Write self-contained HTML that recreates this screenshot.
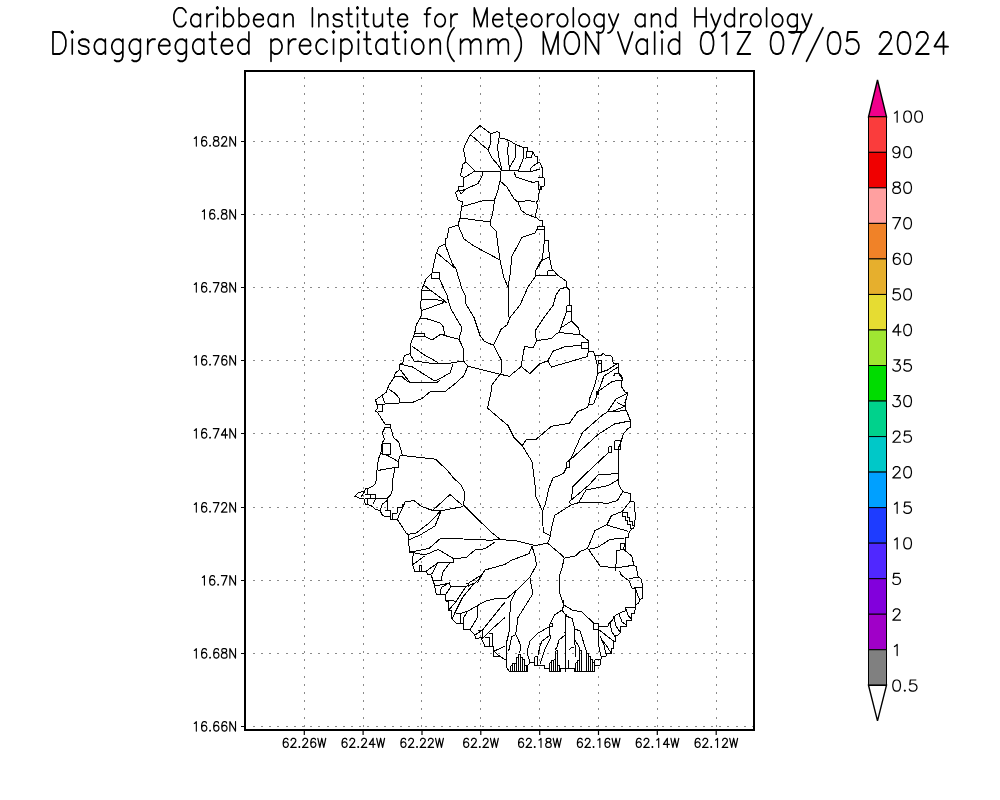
<!DOCTYPE html><html><head><meta charset="utf-8"><style>html,body{margin:0;padding:0;background:#fff;width:1000px;height:800px;overflow:hidden}svg{display:block}text{font-family:"Liberation Sans",sans-serif;fill:#000}</style></head><body>
<svg width="1000" height="800" viewBox="0 0 1000 800">
<rect width="1000" height="800" fill="#fff"/>
<path d="M252.9,141.5H753 M252.9,214.5H753 M252.9,287.5H753 M252.9,360.5H753 M252.9,433.5H753 M252.9,507.5H753 M252.9,580.5H753 M252.9,653.5H753 M252.9,726.5H753" stroke="#8a8a8a" stroke-width="1" stroke-dasharray="2 6.18" fill="none" shape-rendering="crispEdges"/>
<path d="M304.5,77V729 M363.5,77V729 M421.5,77V729 M480.5,77V729 M539.5,77V729 M598.5,77V729 M657.5,77V729 M716.5,77V729" stroke="#8a8a8a" stroke-width="1" stroke-dasharray="2 6.2" fill="none" shape-rendering="crispEdges"/>
<rect x="245" y="71" width="509" height="659" fill="none" stroke="#000" stroke-width="2"/>
<path d="M241,141.5H245 M241,214.5H245 M241,287.5H245 M241,360.5H245 M241,433.5H245 M241,507.5H245 M241,580.5H245 M241,653.5H245 M241,726.5H245 M304.3,730V735 M363.1,730V735 M422.0,730V735 M480.8,730V735 M539.7,730V735 M598.5,730V735 M657.3,730V735 M716.2,730V735" stroke="#000" stroke-width="1.2" fill="none"/>
<g fill="none" stroke="#000" stroke-width="1" stroke-linejoin="miter" shape-rendering="crispEdges">
<polyline points="480,125.5 491,134 497,131.5 499,132.5 500,138 504,138.5 510,141 515,144 523,147.5 527,147.5 527,151 533,152 535,156 537.5,156.5 538,162.5 540,163 542.5,168.5 542.5,177.5 544,177.5 544.5,186 541,186.5 540,190 538.5,194 538,200 536.7,202 537.5,207.5 535,216 538.75,220 542.5,220 542.5,226.25 544.4,226.25 544.4,240 548,240 549.4,257 551.9,268.75 557.5,275 566.25,281.25 566.9,287.5 569.4,290 569.5,295 569.5,305.5 571.7,305.5 571.7,321.2 578.5,328 580,334 588.2,340.7 588.1,348.1 588.75,351.25 593.1,351.25 595,355.6 601.25,355.6 603.1,353.1 605.6,355.6 610.6,355.6 612.5,357.5 613.1,363.1 618.1,363.1 618.1,372.5 621.9,376.25 623.1,380 621.25,381.25 621.9,387.5 625,391.9 628.1,393.1 625,402.5 625.6,408.75 630,419.4 630.6,427.5 628,428.5 623.5,433.7 620.5,443.5 619,446.5 618.2,454 618.2,484 622.7,491.5 630.2,493.7 631,501.2 634,502 635.5,517 634,527.5 629.4,531.25 628.1,537.5 625,538.1 625,544.4 623.1,549.4 627.5,552.5 631.9,556.25 633.75,565 636.25,566.9 638.1,576.9 641.9,579.4 642.5,598.1 640,599.4 638.75,603.1 635,605 635,610 634,613.5 631,613.5 631,620 626,620 626,626 620,626 620,633 618,635 615,635 615,641.5 613.5,641.5 613.5,648 612,648 611.5,653.5 606.5,654 606.5,656 601.5,656.5 601,659 600,659.5 600,665 594,665.5 594,671.5 574.5,671.5 574,668.5 560,668.5 560,671.5 549.5,671.5 549.5,668.5 544.5,668.5 544,665.5 534.5,665.5 534,662.5 530,662.5 527.5,665.5 527.5,671.5 509.5,671.5 507,668 506,660 500,656.5 494,656.5 493.2,646.7 485,646.7 481.2,637.7 476,638.5 474.5,634.7 469.2,629.5 463.2,629.5 463.2,623.5 456.5,623.5 452,619 451.2,610.7 448.2,610 448.2,601.7 446,601 445.2,595 436.2,594.2 434.7,586 433.2,580.7 431,574.7 427.2,574 426.5,571.7 419,571 414.7,571 412.5,565 413.2,553 409.5,552.2 408,534.2 406.5,533.5 397.4,519.6 390.2,519.6 390.2,516.6 385.4,516.6 382.4,515.4 380,510.6 375,509 372.6,506.5 368.5,504.6 365.3,504.6 364,499 360,498.6 355,496.2 358.4,492.4 364.7,491.4 365.3,488.4 367.7,488.4 371,487.2 374.6,484.8 376.5,480 377,470.5 378.5,458.5 380.7,454 382.2,442.7 384.5,439 382.2,433 385.2,427 390.5,427 390.5,424 385.2,424 384.5,423.2 377.7,412.7 375.5,411.2 377.7,407.5 377,404.5 375.5,400 383,394.7 386,392.5 389,385 390,383.5 394.5,376.7 395.2,373 399,370 399.7,364 402.7,363.2 404.2,355.7 410.2,353.5 411,343 414.7,333.2 416.2,325 420,318.2 421.5,314.5 420.7,305.5 421.5,295 422,289 426,279 432,273 436,254 439,247 445,244 445,239 447,238 449,228 458,225 460,218 462,205 462.5,202 458,200 455.5,192.5 459,190 458.5,186.5 463.5,186.5 463.5,177.5 460.5,175.5 463,164 466,162 463.5,149 466,143 470,135.5 472,133 480,125.5"/>
<polyline points="471.5,135.5 480,143 488,150 492,158 498,165 502,171"/>
<polyline points="488,150 490,145 491,134"/>
<polyline points="499,138 497.5,147 499,158 502,170"/>
<polyline points="509,142 507.5,150 509,165 510,171"/>
<polyline points="516,144.5 515,158 510,167"/>
<polyline points="523,147.5 523,159 522,162 518,171"/>
<polyline points="527,151 526,158 531,157.5 533,152"/>
<polyline points="537.5,163 533,166 530,169 530,171 533,171 540,169"/>
<polyline points="466,162 474,170 474,171.5 483,171.5 495,171.5 501,171 510,170 518,171 533,171"/>
<polyline points="474,171.5 467,176 463.5,177.5"/>
<polyline points="483,171.5 482,176 478,183.5 466,189 463.5,190"/>
<polyline points="458.5,190 463.5,190"/>
<polyline points="459,190 461,194 466,189"/>
<polyline points="501,171 500,181 498,190 494.5,200 492.5,215 490,222"/>
<polyline points="500,181 507,187 514,199 518,202 521,210 526,214 537,218"/>
<polyline points="514,172 516,177 522,179 533,182.5 538,181"/>
<polyline points="538,177.5 542.5,177.5"/>
<polyline points="538,181 538,189 541,189 541,186.5"/>
<polyline points="518,202 528.5,200.5 535.2,202"/>
<polyline points="462.5,206.5 473,203.5 483.5,200.5 494.5,200"/>
<polyline points="460,218 490,222 491,226 496,231 500,260 504,278 508,287 509,305 508.7,317.5"/>
<polyline points="458,225 464,239 474,246 500,260"/>
<polyline points="537.5,226.25 544.4,226.25 544.4,229.4 537.5,229.4 537.5,226.25"/>
<polyline points="537.5,228 535,233 522,237.5 512,256 510,275 508,287"/>
<polyline points="544.4,240 542.5,258 536,270 535,277 528,287 520,305"/>
<polyline points="549.4,257 542.5,260 536,270"/>
<polyline points="554,270 548,271 547,275 556,275"/>
<polyline points="535,276 547,275"/>
<polyline points="567,287 560,289 556,295 553,305.5 544,317.5 535,331 536.5,340.7"/>
<polyline points="445,244 452,263 456,269 462,289 465,295 465,302.5 474,317.5 480,335.5 484.5,341.5 493.5,345.2 501,359.5 501,373 492,385 490.5,395 487.5,408 499,418 508,425.5 514,437.5 522.2,445.7 532,461.5 535,485 535.7,496 542.5,511 543.2,532 550.7,535.7 547.7,543.2"/>
<polyline points="437,253 456,269"/>
<polyline points="439,278 447,295 448.5,301.7 451.5,310 462,328 459,339.2 463.5,349 463.5,361 468,366.2"/>
<polyline points="431.5,272.5 439.5,272.5 439.5,278.5 431.5,278.5 431.5,272.5"/>
<polyline points="424,285 430,290 422,290"/>
<polyline points="421.25,299.4 436.25,299.4 447,302.5"/>
<polyline points="430,290 447,302.5"/>
<polyline points="421.5,310.7 444,302.5"/>
<polyline points="420,318.2 427.5,319 439.5,322.7 443.2,326.5 444.7,335.5 450,337 459,339.2"/>
<polyline points="424.5,336.2 432,340 441,334 444.7,335.5"/>
<polyline points="414.4,333.1 424.4,333.1 424.4,336.25 414.4,336.25"/>
<polyline points="411.7,346 424.5,355 438,362.5"/>
<polyline points="410.2,354.2 414,361 430.5,363.2 450,363.2 463.5,361"/>
<polyline points="399.7,364 412.5,367 435,381.2 450,373 453,364"/>
<polyline points="400.5,370 409.5,382 437.5,382 440,380"/>
<polyline points="395.2,376 402,376.7 408,382"/>
<polyline points="493.5,345.2 501,329.5 507,325 510,317.5 518.5,307 520,305"/>
<polyline points="468,366.2 500.6,374.4 509.4,376.25 521.2,366.5"/>
<polyline points="468,366.2 463.5,376 453.5,385 444.5,392 431,391 422,398.5 413,402.2 399.5,403 378.5,404.5"/>
<polyline points="389,389.5 394.2,392.5 399.5,398.5 399.5,403"/>
<polyline points="566.5,305.5 571.7,305.5 571.7,311.5 566.5,311.5 566.5,305.5"/>
<polyline points="566.5,311.5 559,332.5"/>
<polyline points="559.7,328.7 571,321.2 578.5,328"/>
<polyline points="559,332.5 580,334.7"/>
<polyline points="536.5,340.7 551.5,338.5 556,334 559,332.5"/>
<polyline points="536.5,340.7 533.5,347.5 524.5,346.7 521.5,364 521.2,366.5 529.7,373.7 539.5,364 547,361"/>
<polyline points="581.5,342.2 588.2,342.2 588.2,348.2 581.5,348.2 581.5,342.2"/>
<polyline points="581.5,345.2 565,346.7 553,351.2 547.7,361 551.5,367 587.5,356.5 588.2,351.2"/>
<polyline points="595,355.6 597.5,365.6 597.5,373.75 594.4,386.25 590,397.5 588.75,405 586.9,407.5 577.5,411.9 569.5,423.2 551.5,426.2 536.5,439 526.7,439 522.2,445.7"/>
<polyline points="618.1,363.1 607.5,370 600,372.5 597.5,373.75"/>
<polyline points="598,360.6 601,360.6 601,363.1 598,363.1 598,360.6"/>
<polyline points="601,363.1 601,372.5"/>
<polyline points="618.1,366.9 603.75,376.25 601.25,383.75 598.75,390 597.5,393.75 593.75,403.75 589.4,405"/>
<polyline points="596.25,391.25 598.75,391.25 598.75,394.4 596.25,394.4 596.25,391.25"/>
<polyline points="623.1,380 612.5,381.25 600,390 597.5,391.25"/>
<polyline points="613.75,376.25 615,373.1 618.75,373.75 623.1,380"/>
<polyline points="628.1,393.1 616.25,398.75 607.5,411.9 602.5,415 582.5,432.5 571,458.5 568,461.5"/>
<polyline points="616.9,402.5 625,406.25 611.25,411.9"/>
<polyline points="625.6,410.6 607.5,411.9"/>
<polyline points="382.2,394.7 384.5,403"/>
<polyline points="377.7,404.5 382.2,404.5 382.2,411.2 377.7,411.2"/>
<polyline points="390.5,427 393.5,437.5 398.7,442 402.5,455.5 400.2,455.5"/>
<polyline points="402.5,455.5 435.5,459.2 447.5,470.5 453.5,478 461,485 465,493 463.5,505 490,531.2 500.5,539.5"/>
<polyline points="382.2,443.5 390.5,443.5 390.5,454 382.2,454 382.2,443.5"/>
<polyline points="380.7,453.2 387.5,455.5 398,461.5"/>
<polyline points="400.2,455.5 398,461.5 398,467.5 395,467.5 393,478 392.6,489 390.8,495 387.5,498 375.8,498"/>
<polyline points="377.7,470.5 395,467.5"/>
<polyline points="566.5,461.5 569.5,461.5 569.5,467.5 566.5,467.5 566.5,461.5"/>
<polyline points="566.5,467.5 563.5,473.5 553,478 549,488 545.5,503.5 542.5,511"/>
<polyline points="629.5,421 614.5,424 598,434.5 571,459.2"/>
<polyline points="608.5,446.5 611.5,446.5 611.5,452.5 608.5,452.5 608.5,446.5"/>
<polyline points="614.5,440.5 620.5,440.5 620.5,449.5 614.5,449.5 614.5,440.5"/>
<polyline points="608.5,452.5 584.5,475 572.5,487 571.7,499 569.5,502 571,504.2"/>
<polyline points="618.2,473.5 598,475 589,485 571.7,499.7"/>
<polyline points="618.2,479.5 608.5,485.5 586,490 578.5,502.7"/>
<polyline points="365.3,488.4 367.7,488.4 367.7,494.4 365.3,494.4"/>
<polyline points="365.3,498.6 367.7,498.6 367.7,504.6"/>
<polyline points="367.7,494.4 370.7,494.4 370.7,498.6 367.7,498.6"/>
<polyline points="370.7,494 375.8,494 375.8,498 370.7,498"/>
<polyline points="364.7,491.4 360.8,497.4"/>
<polyline points="375.8,498 372.8,504.6"/>
<polyline points="387.5,498 387.5,510.3"/>
<polyline points="385.4,510.3 390.2,510.3 390.2,516.6"/>
<polyline points="380,510.6 382.4,504 387.2,500.4"/>
<polyline points="392.6,519.6 392.6,513 397.4,513"/>
<polyline points="397.4,513 397.4,507.6 402.2,507.6 402.2,504 404.6,504 404.6,501.6"/>
<polyline points="397.4,519 405.2,501.6"/>
<polyline points="403.5,503.5 405,502 414,500.5 421.5,506.5 432,510.2 439.5,511 463.5,506.5"/>
<polyline points="432,511 450,494.5 462,505"/>
<polyline points="408,534.2 415.5,533.5 429,523 436.5,515.5 440.2,511"/>
<polyline points="408,540.2 420,535 435,526 441,511"/>
<polyline points="409.5,552.2 429,548.5 441,538 490,540.2 500.5,539.5 517,541 535,545.5 547.7,543.2"/>
<polyline points="412.5,552.5 425,555 438.1,549.4 453.75,558.75 466.25,557.5 475,550 485,548.75 495,541.9"/>
<polyline points="413.1,564.4 424.4,556.25"/>
<polyline points="419.4,571 419.4,565 421.25,565 421.25,571.25"/>
<polyline points="426.25,571.25 438.1,562.5 453.75,562.5 453.75,558.75"/>
<polyline points="431.9,573.75 437.5,563.1"/>
<polyline points="622.7,491.5 617.5,500.5 607,503.5 595,502 578.5,502.7 571,505 554.5,515.5 550,535"/>
<polyline points="630.2,501.2 622,511.7 611.5,515.5 607,524.5 595,530.5 587.5,548.5 580,551.5 575.5,556 564.2,558.2 562,568 559.2,576.5 559.2,591.5 563.7,605 562.2,609.5"/>
<polyline points="607,525.2 628,531.2"/>
<polyline points="622,512.5 627,512.5 627,517 629.5,517 629.5,521 632,521 632,525.5 634.5,525.5"/>
<polyline points="622,512.5 622,516 625,516 625,520 627.5,520 627.5,524 630,524 630,528.5 633,528.5"/>
<polyline points="587.5,549.4 597.5,547.5 610,539.4 623.75,538.1"/>
<polyline points="589,550 600,566 616,568 633.5,565.2"/>
<polyline points="616.25,571.25 615.6,570 616.9,550.6 623.1,549.4"/>
<polyline points="620.6,543.1 625,543.1 625,549.4 620.6,549.4 620.6,543.1"/>
<polyline points="619.4,570.6 621.25,575 629.4,581.25 631.9,588.1 635,588.1 635,605"/>
<polyline points="633.75,587.5 642.5,587.5"/>
<polyline points="636,590 638,596 640,600"/>
<polyline points="629.4,578.75 638.1,576.9"/>
<polyline points="547.7,543.2 563.5,556.7 564.2,558.2"/>
<polyline points="532,546.2 535,556 536.5,565 530,577 518,589 506,599 495,598.75 485,601.25 477.5,605.6 467.5,611.25 460,613.75"/>
<polyline points="532,546.2 529,553.7 511,560.5 505,564.4 485,570 481.25,576.25 475,583.1 466.25,586.25 451.25,586.25"/>
<polyline points="450,562.5 442.5,572.5 441.25,580.6 431.9,580.6"/>
<polyline points="440,595 441.25,587.5 450,582.5"/>
<polyline points="434.7,586 449.7,583 450.5,587.5 445.2,595"/>
<polyline points="467.5,583.75 481.25,575 477.5,583.1"/>
<polyline points="466.25,583.1 468.75,583.1 468.75,586.9"/>
<polyline points="474,583.5 462.5,597.5 455,612.5 452,619"/>
<polyline points="466.25,586.25 456.25,601.25 448.75,610"/>
<polyline points="445.6,600 456.25,601.25"/>
<polyline points="530,578.5 533,593.5 518,617.5 515.7,634 521,646 519.5,653.5"/>
<polyline points="516.5,589.7 510.5,602.5 509,632.5 506,644.5 506,662.5"/>
<polyline points="505,602.5 502.5,605 492.5,617.5 482.5,630 475,635"/>
<polyline points="477.5,605.6 477.5,617.5 470,630"/>
<polyline points="467.5,611.25 463.75,617.5 463.1,623.1"/>
<polyline points="505,617.5 493.75,627.5 482.5,638.75"/>
<polyline points="477.5,630 482.5,630 482.5,638.75"/>
<polyline points="456.25,613.75 460,613.75 460,623.1"/>
<polyline points="485,637 489,637 489,646.7"/>
<polyline points="489,633 492.5,633 492.5,646.7"/>
<polyline points="505.2,646 494,651.2 500,656.5"/>
<polyline points="593.5,623.5 598.5,623.5 598.5,629 593.5,629 593.5,623.5"/>
<polyline points="598.5,626 608,626"/>
<polyline points="598.5,629 598.5,645 601,656"/>
<polyline points="598,629 614,641.5"/>
<polyline points="635,607.5 626,607.5 625,611 618.5,613.5 614,616.5 613,619.5 609,623.5 608,626"/>
<polyline points="626,609 628,615 631,619"/>
<polyline points="619,614 622,622 626,625"/>
<polyline points="614,617 616,626 620,632"/>
<polyline points="610,623 612,632 616,638"/>
<polyline points="600,636 604,645 606,654"/>
<polyline points="603,641 608,648 611,653"/>
<polyline points="563,600 564,605 562,610 554.5,615 552,620 550,624 549,627 538,633 530,641 527,652 530,662.5"/>
<polyline points="549.5,623.5 552,623.5 552,626 549.5,626 549.5,623.5"/>
<polyline points="549.5,626 549.5,635 551,637 545,649 540,664"/>
<polyline points="549,636 542,641 540,646 538,655"/>
<polyline points="564,605 572,610 582,612 594,623.5"/>
<polyline points="562,610 565,614 566,672"/>
<polyline points="564.5,614 566.5,614 566.5,616.5 564.5,616.5"/>
<polyline points="566,616 572,618.5 575,629 580,631 587,653"/>
<polyline points="575,629 574.5,639 576,657"/>
<polyline points="564.5,632 565.5,634.5 559,640 557,647 555,650"/>
<polyline points="574.5,639 579,647 580,650"/>
<polyline points="569,650 571,648 574,647"/>
<polyline points="515,635 511.5,637 509.5,648 508.5,651"/>
<polyline points="594.5,659.5 600,659.5"/>
<polyline points="594.5,659.5 594.5,665.5"/>
<polyline points="510.5,665.5 510.5,671.5"/>
<polyline points="512.5,663 512.5,671.5"/>
<polyline points="514.5,663 514.5,671.5"/>
<polyline points="516.5,657 516.5,671.5"/>
<polyline points="518.5,654 518.5,671.5"/>
<polyline points="520.5,654 520.5,671.5"/>
<polyline points="522.5,657 522.5,671.5"/>
<polyline points="524.5,659.5 524.5,671.5"/>
<polyline points="526.5,665.5 526.5,671.5"/>
<polyline points="510.5,665.5 512.5,665.5"/>
<polyline points="512.5,663 514.5,663"/>
<polyline points="514.5,663 516.5,663"/>
<polyline points="516.5,657 518.5,657"/>
<polyline points="518.5,654 520.5,654"/>
<polyline points="520.5,657 522.5,657"/>
<polyline points="522.5,659.5 524.5,659.5"/>
<polyline points="524.5,665.5 526.5,665.5"/>
<polyline points="534.5,656.5 534.5,665.5"/>
<polyline points="537.5,656.5 537.5,665.5"/>
<polyline points="534.5,656.5 537.5,656.5"/>
<polyline points="549.5,662.5 549.5,671.5"/>
<polyline points="551.5,660 551.5,671.5"/>
<polyline points="553.5,659.5 553.5,671.5"/>
<polyline points="555.5,650.5 555.5,671.5"/>
<polyline points="557.5,650.5 557.5,671.5"/>
<polyline points="559.5,665 559.5,671.5"/>
<polyline points="549.5,662.5 551.5,662.5"/>
<polyline points="551.5,660 553.5,660"/>
<polyline points="553.5,659.5 555.5,659.5"/>
<polyline points="555.5,650.5 557.5,650.5"/>
<polyline points="557.5,665 559.5,665"/>
<polyline points="568.5,659.5 568.5,668.5"/>
<polyline points="575.5,662.5 575.5,671.5"/>
<polyline points="577.5,660 577.5,671.5"/>
<polyline points="579.5,650 579.5,671.5"/>
<polyline points="581.5,650.5 581.5,671.5"/>
<polyline points="575.5,662.5 577.5,662.5"/>
<polyline points="577.5,660 579.5,660"/>
<polyline points="579.5,650.5 581.5,650.5"/>
<polyline points="586.5,653 586.5,671.5"/>
<polyline points="588.5,653 588.5,671.5"/>
<polyline points="590.5,656.5 590.5,671.5"/>
<polyline points="592.5,659.5 592.5,671.5"/>
<polyline points="594.5,662.5 594.5,671.5"/>
<polyline points="586.5,653 588.5,653"/>
<polyline points="588.5,656.5 590.5,656.5"/>
<polyline points="590.5,659.5 592.5,659.5"/>
<polyline points="592.5,662.5 594.5,662.5"/>
</g>
<polygon points="868.5,116.8 877.5,80 886.5,116.8" fill="#f0008c" stroke="#000" stroke-width="1.4"/>
<rect x="868.5" y="116.80" width="18.0" height="35.53" fill="#fa3c3c" stroke="#000" stroke-width="1"/>
<rect x="868.5" y="152.33" width="18.0" height="35.53" fill="#f00000" stroke="#000" stroke-width="1"/>
<rect x="868.5" y="187.86" width="18.0" height="35.53" fill="#ffa0a0" stroke="#000" stroke-width="1"/>
<rect x="868.5" y="223.39" width="18.0" height="35.53" fill="#f08228" stroke="#000" stroke-width="1"/>
<rect x="868.5" y="258.92" width="18.0" height="35.53" fill="#e6af2d" stroke="#000" stroke-width="1"/>
<rect x="868.5" y="294.45" width="18.0" height="35.53" fill="#e6dc32" stroke="#000" stroke-width="1"/>
<rect x="868.5" y="329.98" width="18.0" height="35.53" fill="#a0e632" stroke="#000" stroke-width="1"/>
<rect x="868.5" y="365.51" width="18.0" height="35.53" fill="#00dc00" stroke="#000" stroke-width="1"/>
<rect x="868.5" y="401.04" width="18.0" height="35.53" fill="#00d28c" stroke="#000" stroke-width="1"/>
<rect x="868.5" y="436.57" width="18.0" height="35.53" fill="#00c8c8" stroke="#000" stroke-width="1"/>
<rect x="868.5" y="472.10" width="18.0" height="35.53" fill="#00a0ff" stroke="#000" stroke-width="1"/>
<rect x="868.5" y="507.63" width="18.0" height="35.53" fill="#1e3cff" stroke="#000" stroke-width="1"/>
<rect x="868.5" y="543.16" width="18.0" height="35.53" fill="#5028ff" stroke="#000" stroke-width="1"/>
<rect x="868.5" y="578.69" width="18.0" height="35.53" fill="#8200dc" stroke="#000" stroke-width="1"/>
<rect x="868.5" y="614.22" width="18.0" height="35.53" fill="#a000c8" stroke="#000" stroke-width="1"/>
<rect x="868.5" y="649.75" width="18.0" height="35.53" fill="#808080" stroke="#000" stroke-width="1"/>
<polygon points="868.5,685.28 877.5,720.8 886.5,685.28" fill="#fff" stroke="#000" stroke-width="1.4"/>
<path d="M812.09,13.36 811.45,13.27 810.88,13.80 806.86,24.28 802.83,13.80 802.27,13.27 801.79,13.27 801.30,13.71 801.22,14.52 805.97,26.69 804.68,29.56 803.23,31.26 801.79,32.07 800.98,32.07 800.50,32.51 800.42,33.23 800.82,33.77 802.27,33.86 803.96,32.96 806.05,30.63 807.66,27.05 812.50,14.52 812.50,13.89ZM797.44,13.27 796.79,13.36 796.39,13.89 796.31,14.52 794.22,13.27 791.32,13.27 789.62,14.16 787.69,16.22 786.73,19.17 786.73,21.68 787.53,24.28 789.62,26.69 791.32,27.59 794.22,27.59 796.39,26.43 796.31,28.66 795.75,30.54 794.94,31.44 793.73,32.07 791.80,32.07 790.19,31.17 789.71,31.17 789.22,31.62 789.14,32.33 789.62,32.96 791.32,33.86 794.22,33.86 795.91,32.96 797.03,31.80 798.00,28.84 798.00,13.89ZM791.80,15.06 793.97,15.15 795.18,15.86 796.39,17.29 796.39,23.56 795.18,24.99 793.73,25.80 791.80,25.80 790.35,24.99 788.98,23.38 788.34,21.14 788.34,19.71 788.98,17.47 790.35,15.86ZM775.93,13.27 774.32,14.16 772.39,16.22 771.43,19.17 771.43,21.68 772.39,24.64 774.32,26.69 776.02,27.59 778.91,27.59 780.61,26.69 782.54,24.64 783.50,21.68 783.50,19.17 782.54,16.22 780.61,14.16 778.91,13.27ZM776.50,15.06 778.43,15.06 779.88,15.86 781.25,17.47 781.89,19.71 781.89,21.14 781.25,23.38 779.88,24.99 778.43,25.80 776.50,25.80 775.05,24.99 773.68,23.38 773.04,21.14 773.04,19.71 773.68,17.47 775.05,15.86ZM754.19,13.27 752.58,14.16 750.65,16.22 749.68,19.17 749.68,21.68 750.65,24.64 752.58,26.69 754.27,27.59 757.17,27.59 758.86,26.69 760.80,24.64 761.76,21.68 761.76,19.17 760.80,16.22 758.86,14.16 757.17,13.27ZM754.76,15.06 756.69,15.06 758.14,15.86 759.51,17.47 760.15,19.71 760.15,21.14 759.51,23.38 758.14,24.99 756.69,25.80 754.76,25.80 753.31,24.99 751.94,23.38 751.29,21.14 751.29,19.71 751.94,17.47 753.31,15.86ZM747.67,13.36 744.61,13.27 742.92,14.16 741.79,15.41 741.63,15.33 741.63,13.89 741.23,13.36 740.58,13.27 740.10,13.71 740.02,26.96 740.42,27.50 741.07,27.59 741.63,26.96 741.63,19.71 742.27,17.47 743.64,15.86 744.85,15.15 747.67,14.97 748.07,14.43 748.07,13.89ZM721.09,13.36 720.45,13.27 719.89,13.80 715.86,24.28 711.83,13.80 711.27,13.27 710.79,13.27 710.30,13.71 710.22,14.52 714.97,26.69 713.68,29.56 712.24,31.26 710.79,32.07 709.98,32.07 709.50,32.51 709.42,33.23 709.82,33.77 711.27,33.86 712.96,32.96 715.05,30.63 716.66,27.05 721.50,14.52 721.50,13.89ZM651.03,13.36 650.63,13.89 650.71,27.14 651.19,27.59 651.68,27.59 652.24,26.96 652.32,18.01 654.50,15.68 655.70,15.06 657.64,15.06 658.84,15.77 659.41,17.56 659.49,26.96 660.05,27.59 660.70,27.50 661.10,26.96 661.10,17.38 660.21,14.61 659.81,14.16 658.12,13.27 655.22,13.27 653.53,14.16 652.32,15.41 652.16,13.71 651.68,13.27ZM637.42,14.16 635.49,16.22 634.52,19.17 634.52,21.68 635.49,24.64 637.42,26.69 639.11,27.59 642.01,27.59 644.11,26.34 644.19,26.96 644.59,27.50 645.40,27.50 645.80,26.96 645.72,13.71 645.23,13.27 644.75,13.27 644.27,13.71 644.11,14.52 642.01,13.27 639.11,13.27ZM639.60,15.06 641.77,15.15 642.98,15.86 644.19,17.29 644.19,23.56 642.98,24.99 641.53,25.80 639.60,25.80 638.15,24.99 636.78,23.38 636.13,21.14 636.13,19.71 636.78,17.47 638.15,15.86ZM618.82,13.36 618.18,13.27 617.61,13.80 613.59,24.28 609.56,13.80 609.00,13.27 608.51,13.27 608.03,13.71 607.95,14.52 612.70,26.69 611.41,29.56 609.96,31.26 608.51,32.07 607.71,32.07 607.22,32.51 607.14,33.23 607.55,33.77 609.00,33.86 610.69,32.96 612.78,30.63 614.39,27.05 619.22,14.52 619.22,13.89ZM604.16,13.27 603.52,13.36 603.12,13.89 603.04,14.52 600.94,13.27 598.04,13.27 596.35,14.16 594.42,16.22 593.45,19.17 593.45,21.68 594.26,24.28 596.35,26.69 598.04,27.59 600.94,27.59 603.12,26.43 603.04,28.66 602.47,30.54 601.67,31.44 600.46,32.07 598.53,32.07 596.92,31.17 596.43,31.17 595.95,31.62 595.87,32.33 596.35,32.96 598.04,33.86 600.94,33.86 602.63,32.96 603.76,31.80 604.73,28.84 604.73,13.89ZM598.53,15.06 600.70,15.15 601.91,15.86 603.12,17.29 603.12,23.56 601.91,24.99 600.46,25.80 598.53,25.80 597.08,24.99 595.71,23.38 595.06,21.14 595.06,19.71 595.71,17.47 597.08,15.86ZM582.66,13.27 581.05,14.16 579.12,16.22 578.15,19.17 578.15,21.68 579.12,24.64 581.05,26.69 582.74,27.59 585.64,27.59 587.33,26.69 589.27,24.64 590.23,21.68 590.23,19.17 589.27,16.22 587.33,14.16 585.64,13.27ZM583.23,15.06 585.16,15.06 586.61,15.86 587.98,17.47 588.62,19.71 588.62,21.14 587.98,23.38 586.61,24.99 585.16,25.80 583.23,25.80 581.78,24.99 580.41,23.38 579.76,21.14 579.76,19.71 580.41,17.47 581.78,15.86ZM560.92,13.27 559.31,14.16 557.38,16.22 556.41,19.17 556.41,21.68 557.38,24.64 559.31,26.69 561.00,27.59 563.90,27.59 565.59,26.69 567.52,24.64 568.49,21.68 568.49,19.17 567.52,16.22 565.59,14.16 563.90,13.27ZM561.48,15.06 563.42,15.06 564.86,15.86 566.23,17.47 566.88,19.71 566.88,21.14 566.23,23.38 564.86,24.99 563.42,25.80 561.48,25.80 560.03,24.99 558.66,23.38 558.02,21.14 558.02,19.71 558.66,17.47 560.03,15.86ZM554.40,13.36 551.34,13.27 549.64,14.16 548.52,15.41 548.36,15.33 548.36,13.89 547.95,13.36 547.31,13.27 546.83,13.71 546.75,26.96 547.15,27.50 547.79,27.59 548.36,26.96 548.36,19.71 549.00,17.47 550.37,15.86 551.58,15.15 554.40,14.97 554.80,14.43 554.80,13.89ZM535.15,13.27 533.54,14.16 531.61,16.22 530.64,19.17 530.64,21.68 531.61,24.64 533.54,26.69 535.23,27.59 538.13,27.59 539.82,26.69 541.75,24.64 542.72,21.68 542.72,19.17 541.75,16.22 539.82,14.16 538.13,13.27ZM535.71,15.06 537.65,15.06 539.10,15.86 540.46,17.47 541.11,19.71 541.11,21.14 540.46,23.38 539.10,24.99 537.65,25.80 535.71,25.80 534.26,24.99 532.89,23.38 532.25,21.14 532.25,19.71 532.89,17.47 534.26,15.86ZM520.73,13.27 519.04,14.16 517.11,16.22 516.14,19.17 516.14,21.68 517.11,24.64 519.04,26.69 520.73,27.59 523.63,27.59 525.65,26.43 527.26,24.64 527.42,24.28 527.34,23.56 526.85,23.11 526.37,23.11 524.60,24.99 523.39,25.71 521.22,25.80 519.77,24.99 518.56,23.65 517.84,21.50 517.75,20.52 526.85,20.43 527.42,19.80 527.42,17.47 526.45,15.33 525.32,14.16 523.63,13.27ZM518.16,18.28 518.56,17.21 519.77,15.86 521.22,15.06 523.15,15.06 524.36,15.68 525.08,16.40 525.81,18.01 525.73,18.64 518.24,18.64ZM496.58,13.27 494.88,14.16 492.95,16.22 491.98,19.17 491.98,21.68 492.95,24.64 494.88,26.69 496.58,27.59 499.47,27.59 501.49,26.43 503.10,24.64 503.26,24.28 503.18,23.56 502.70,23.11 502.21,23.11 500.44,24.99 499.23,25.71 497.06,25.80 495.61,24.99 494.40,23.65 493.68,21.50 493.60,20.52 502.70,20.43 503.26,19.80 503.26,17.47 502.29,15.33 501.17,14.16 499.47,13.27ZM494.00,18.28 494.40,17.21 495.61,15.86 497.06,15.06 498.99,15.06 500.20,15.68 500.92,16.40 501.65,18.01 501.57,18.64 494.08,18.64ZM457.76,13.36 454.70,13.27 453.01,14.16 451.88,15.41 451.72,15.33 451.72,13.89 451.32,13.36 450.67,13.27 450.19,13.71 450.11,26.96 450.51,27.50 451.16,27.59 451.72,26.96 451.72,19.71 452.36,17.47 453.73,15.86 454.94,15.15 457.76,14.97 458.16,14.43 458.16,13.89ZM438.51,13.27 436.90,14.16 434.97,16.22 434.00,19.17 434.00,21.68 434.97,24.64 436.90,26.69 438.59,27.59 441.49,27.59 443.18,26.69 445.12,24.64 446.08,21.68 446.08,19.17 445.12,16.22 443.18,14.16 441.49,13.27ZM439.08,15.06 441.01,15.06 442.46,15.86 443.83,17.47 444.47,19.71 444.47,21.14 443.83,23.38 442.46,24.99 441.01,25.80 439.08,25.80 437.63,24.99 436.26,23.38 435.61,21.14 435.61,19.71 436.26,17.47 437.63,15.86ZM401.55,13.27 399.86,14.16 397.93,16.22 396.96,19.17 396.96,21.68 397.93,24.64 399.86,26.69 401.55,27.59 404.45,27.59 406.46,26.43 408.07,24.64 408.23,24.28 408.15,23.56 407.67,23.11 407.19,23.11 405.41,24.99 404.21,25.71 402.03,25.80 400.58,24.99 399.38,23.65 398.65,21.50 398.57,20.52 407.67,20.43 408.23,19.80 408.23,17.47 407.27,15.33 406.14,14.16 404.45,13.27ZM398.97,18.28 399.38,17.21 400.58,15.86 402.03,15.06 403.97,15.06 405.17,15.68 405.90,16.40 406.62,18.01 406.54,18.64 399.05,18.64ZM373.20,13.36 372.80,13.89 372.80,23.47 373.69,26.25 374.09,26.69 375.78,27.59 378.68,27.59 380.37,26.69 381.58,25.44 381.74,27.14 382.22,27.59 382.87,27.50 383.27,26.96 383.19,13.71 382.71,13.27 382.22,13.27 381.66,13.89 381.58,22.85 379.40,25.17 378.20,25.80 376.26,25.80 375.05,25.08 374.49,23.29 374.41,13.89 373.85,13.27ZM357.26,13.27 356.69,13.89 356.69,26.96 357.10,27.50 357.74,27.59 358.30,26.96 358.30,13.89 357.90,13.36ZM336.24,13.27 333.90,14.16 333.34,14.70 332.53,16.58 332.62,17.38 333.34,19.00 333.82,19.53 335.51,20.43 339.38,21.23 340.59,21.86 341.31,23.11 341.31,24.01 340.75,25.08 338.82,25.80 336.72,25.80 334.95,25.17 334.63,24.90 334.15,23.65 333.58,23.11 332.94,23.20 332.53,23.74 332.53,24.28 333.34,26.16 333.90,26.69 336.24,27.59 339.30,27.59 341.80,26.61 342.20,26.16 342.92,24.55 343.00,22.85 342.20,20.97 341.72,20.43 340.02,19.53 335.92,18.64 334.63,17.74 334.31,16.67 334.79,15.77 336.72,15.06 338.82,15.06 340.59,15.68 340.91,15.95 341.39,17.21 341.96,17.74 342.60,17.65 343.00,17.12 343.00,16.58 342.20,14.70 341.63,14.16 339.30,13.27ZM318.44,13.36 318.04,13.89 318.12,27.14 318.60,27.59 319.09,27.59 319.65,26.96 319.73,18.01 321.90,15.68 323.11,15.06 325.05,15.06 326.25,15.77 326.82,17.56 326.90,26.96 327.46,27.59 328.11,27.50 328.51,26.96 328.51,17.38 327.62,14.61 327.22,14.16 325.53,13.27 322.63,13.27 320.94,14.16 319.73,15.41 319.57,13.71 319.09,13.27ZM283.81,13.36 283.41,13.89 283.49,27.14 283.98,27.59 284.46,27.59 285.02,26.96 285.10,18.01 287.28,15.68 288.48,15.06 290.42,15.06 291.63,15.77 292.19,17.56 292.27,26.96 292.83,27.59 293.48,27.50 293.88,26.96 293.88,17.38 292.99,14.61 292.59,14.16 290.90,13.27 288.00,13.27 286.31,14.16 285.10,15.41 284.94,13.71 284.46,13.27ZM270.20,14.16 268.27,16.22 267.31,19.17 267.31,21.68 268.27,24.64 270.20,26.69 271.90,27.59 274.79,27.59 276.89,26.34 276.97,26.96 277.37,27.50 278.18,27.50 278.58,26.96 278.50,13.71 278.02,13.27 277.53,13.27 277.05,13.71 276.89,14.52 274.79,13.27 271.90,13.27ZM272.38,15.06 274.55,15.15 275.76,15.86 276.97,17.29 276.97,23.56 275.76,24.99 274.31,25.80 272.38,25.80 270.93,24.99 269.56,23.38 268.92,21.14 268.92,19.71 269.56,17.47 270.93,15.86ZM257.40,13.27 255.71,14.16 253.78,16.22 252.81,19.17 252.81,21.68 253.78,24.64 255.71,26.69 257.40,27.59 260.30,27.59 262.31,26.43 263.92,24.64 264.08,24.28 264.00,23.56 263.52,23.11 263.04,23.11 261.27,24.99 260.06,25.71 257.88,25.80 256.43,24.99 255.23,23.65 254.50,21.50 254.42,20.52 263.52,20.43 264.08,19.80 264.08,17.47 263.12,15.33 261.99,14.16 260.30,13.27ZM254.82,18.28 255.23,17.21 256.43,15.86 257.88,15.06 259.82,15.06 261.02,15.68 261.75,16.40 262.47,18.01 262.39,18.64 254.90,18.64ZM217.14,13.27 216.57,13.89 216.57,26.96 216.97,27.50 217.62,27.59 218.18,26.96 218.18,13.89 217.78,13.36ZM213.75,13.36 210.69,13.27 209.00,14.16 207.87,15.41 207.71,15.33 207.71,13.89 207.31,13.36 206.67,13.27 206.18,13.71 206.10,26.96 206.51,27.50 207.15,27.59 207.71,26.96 207.71,19.71 208.36,17.47 209.73,15.86 210.93,15.15 213.75,14.97 214.16,14.43 214.16,13.89ZM192.90,14.16 190.96,16.22 190.00,19.17 190.00,21.68 190.96,24.64 192.90,26.69 194.59,27.59 197.49,27.59 199.58,26.34 199.66,26.96 200.06,27.50 200.87,27.50 201.27,26.96 201.19,13.71 200.71,13.27 200.22,13.27 199.74,13.71 199.58,14.52 197.49,13.27 194.59,13.27ZM195.07,15.06 197.24,15.15 198.45,15.86 199.66,17.29 199.66,23.56 198.45,24.99 197.00,25.80 195.07,25.80 193.62,24.99 192.25,23.38 191.61,21.14 191.61,19.71 192.25,17.47 193.62,15.86ZM766.35,7.00 765.79,7.63 765.79,26.96 766.19,27.50 766.83,27.59 767.40,26.96 767.40,7.63 767.00,7.09ZM734.62,7.00 733.98,7.09 733.58,7.63 733.58,14.43 731.40,13.27 728.50,13.27 726.81,14.16 724.88,16.22 723.91,19.17 723.91,21.68 724.88,24.64 726.81,26.69 728.50,27.59 731.40,27.59 733.50,26.34 733.66,27.14 734.14,27.59 734.78,27.50 735.19,26.96 735.19,7.63ZM728.99,15.06 731.16,15.15 732.37,15.86 733.58,17.29 733.58,23.56 732.37,24.99 730.92,25.80 728.99,25.80 727.54,24.99 726.17,23.38 725.52,21.14 725.52,19.71 726.17,17.47 727.54,15.86ZM694.52,7.09 694.12,7.63 694.20,27.14 694.68,27.59 695.16,27.59 695.73,26.96 695.81,17.74 705.31,17.74 705.39,26.96 705.95,27.59 706.60,27.50 707.00,26.96 706.92,7.45 706.44,7.00 705.95,7.00 705.39,7.63 705.31,15.95 695.81,15.95 695.73,7.63 695.16,7.00ZM675.84,7.00 675.19,7.09 674.79,7.63 674.79,14.43 672.61,13.27 669.72,13.27 668.02,14.16 666.09,16.22 665.13,19.17 665.13,21.68 666.09,24.64 668.02,26.69 669.72,27.59 672.61,27.59 674.71,26.34 674.87,27.14 675.35,27.59 676.00,27.50 676.40,26.96 676.40,7.63ZM670.20,15.06 672.37,15.15 673.58,15.86 674.79,17.29 674.79,23.56 673.58,24.99 672.13,25.80 670.20,25.80 668.75,24.99 667.38,23.38 666.74,21.14 666.74,19.71 667.38,17.47 668.75,15.86ZM573.08,7.00 572.52,7.63 572.52,26.96 572.92,27.50 573.56,27.59 574.13,26.96 574.13,7.63 573.72,7.09ZM508.65,7.00 508.09,7.63 508.09,13.18 506.24,13.27 505.76,13.71 505.68,14.43 506.24,15.06 508.09,15.15 508.09,23.47 508.98,26.25 509.38,26.69 511.07,27.59 513.16,27.59 513.73,26.96 513.65,26.25 513.16,25.80 511.55,25.80 510.51,25.26 509.70,22.93 509.70,15.15 512.36,15.06 512.84,14.61 512.92,13.89 512.36,13.27 509.70,13.18 509.70,7.63 509.30,7.09ZM473.87,7.09 473.46,7.63 473.54,27.14 474.03,27.59 474.51,27.59 475.07,26.96 475.15,13.18 479.91,27.05 480.47,27.59 480.95,27.59 481.52,27.05 486.27,13.18 486.35,26.96 486.91,27.59 487.56,27.50 487.96,26.96 487.88,7.45 487.39,7.00 486.91,7.00 486.35,7.54 480.71,24.01 475.07,7.54 474.51,7.00ZM431.02,7.00 428.93,7.00 427.24,7.89 426.76,8.52 425.95,11.12 425.95,13.18 424.10,13.27 423.53,13.89 423.61,14.61 424.10,15.06 425.95,15.15 425.95,26.96 426.51,27.59 427.16,27.50 427.56,26.96 427.56,15.15 430.22,15.06 430.78,14.43 430.70,13.71 430.22,13.27 427.64,13.27 427.56,11.65 428.37,9.33 429.41,8.79 431.02,8.79 431.51,8.34 431.59,7.63ZM389.47,7.00 388.91,7.63 388.91,13.18 387.05,13.27 386.57,13.71 386.49,14.43 387.05,15.06 388.91,15.15 388.91,23.47 389.79,26.25 390.19,26.69 391.89,27.59 393.98,27.59 394.54,26.96 394.46,26.25 393.98,25.80 392.37,25.80 391.32,25.26 390.52,22.93 390.52,15.15 393.17,15.06 393.66,14.61 393.74,13.89 393.17,13.27 390.52,13.18 390.52,7.63 390.11,7.09ZM364.51,7.00 363.94,7.63 363.94,13.18 362.09,13.27 361.61,13.71 361.53,14.43 362.09,15.06 363.94,15.15 363.94,23.47 364.83,26.25 365.23,26.69 366.92,27.59 369.02,27.59 369.58,26.96 369.50,26.25 369.02,25.80 367.40,25.80 366.36,25.26 365.55,22.93 365.55,15.15 368.21,15.06 368.69,14.61 368.77,13.89 368.21,13.27 365.55,13.18 365.55,7.63 365.15,7.09ZM348.40,7.00 347.84,7.63 347.84,13.18 345.98,13.27 345.50,13.71 345.42,14.43 345.98,15.06 347.84,15.15 347.84,23.47 348.72,26.25 349.12,26.69 350.82,27.59 352.91,27.59 353.47,26.96 353.39,26.25 352.91,25.80 351.30,25.80 350.25,25.26 349.45,22.93 349.45,15.15 352.10,15.06 352.59,14.61 352.67,13.89 352.10,13.27 349.45,13.18 349.45,7.63 349.04,7.09ZM312.16,7.00 311.60,7.63 311.60,26.96 312.00,27.50 312.64,27.59 313.21,26.96 313.21,7.63 312.81,7.09ZM238.88,7.00 238.31,7.63 238.31,26.96 238.72,27.50 239.36,27.59 239.84,27.14 240.01,26.34 242.10,27.59 245.00,27.59 246.69,26.69 248.62,24.64 249.59,21.68 249.59,19.17 248.62,16.22 246.69,14.16 245.00,13.27 242.10,13.27 239.93,14.43 239.93,7.63 239.52,7.09ZM242.58,15.06 244.52,15.06 245.96,15.86 247.33,17.47 247.98,19.71 247.98,21.14 247.33,23.38 245.96,24.99 244.52,25.80 242.34,25.71 241.13,24.99 239.93,23.56 239.93,17.29 241.13,15.86ZM223.58,7.00 223.01,7.63 223.01,26.96 223.42,27.50 224.06,27.59 224.54,27.14 224.70,26.34 226.80,27.59 229.70,27.59 231.39,26.69 233.32,24.64 234.29,21.68 234.29,19.17 233.32,16.22 231.39,14.16 229.70,13.27 226.80,13.27 224.62,14.43 224.62,7.63 224.22,7.09ZM227.28,15.06 229.21,15.06 230.66,15.86 232.03,17.47 232.68,19.71 232.68,21.14 232.03,23.38 230.66,24.99 229.21,25.80 227.04,25.71 225.83,24.99 224.62,23.56 224.62,17.29 225.83,15.86ZM178.48,7.00 176.47,8.16 174.86,9.95 173.97,11.83 173.08,14.70 173.08,19.89 173.97,22.76 174.70,24.37 176.47,26.43 178.48,27.59 182.18,27.59 183.88,26.69 185.81,24.64 186.69,22.76 186.69,21.77 186.21,21.32 185.57,21.41 185.16,21.86 184.36,23.65 183.15,24.99 181.94,25.71 178.96,25.80 177.76,25.17 176.06,23.29 174.78,19.71 174.78,14.88 175.50,12.55 176.31,10.94 177.51,9.60 178.96,8.79 181.70,8.79 182.91,9.42 184.44,11.03 185.16,12.73 185.73,13.27 186.37,13.18 186.78,12.64 186.78,12.10 185.81,9.95 183.88,7.89 182.18,7.00ZM357.26,6.10 356.05,7.27 355.89,8.16 356.86,9.42 357.26,9.69 357.74,9.69 358.95,8.52 359.11,7.63 358.14,6.37 357.74,6.10ZM217.14,6.10 215.93,7.27 215.77,8.16 216.73,9.42 217.14,9.69 217.62,9.69 218.83,8.52 218.99,7.63 218.02,6.37 217.62,6.10Z" fill="#000" fill-rule="evenodd"/>
<path d="M661.83,38.34 661.19,39.08 661.19,54.16 661.46,54.69 662.20,54.90 662.84,54.16 662.84,39.08 662.57,38.55ZM638.55,39.50 636.44,41.90 635.42,45.15 635.42,48.09 636.44,51.33 638.55,53.74 640.67,54.90 643.80,54.90 645.91,53.74 646.37,53.22 646.46,54.16 646.74,54.69 647.11,54.90 647.84,54.69 648.12,54.16 648.03,38.76 647.48,38.34 646.74,38.55 646.46,39.08 646.37,40.02 645.91,39.50 643.80,38.34 640.67,38.34ZM641.04,40.23 643.43,40.23 644.90,41.07 646.46,42.85 646.46,50.39 644.90,52.17 643.43,53.01 641.04,53.01 639.56,52.17 637.91,50.29 637.08,47.46 637.08,45.78 637.91,42.95 639.56,41.07ZM487.39,38.76 487.30,54.16 487.57,54.69 488.31,54.90 488.95,54.16 488.95,43.90 491.44,41.07 492.91,40.23 495.30,40.23 496.41,40.86 496.77,41.38 497.42,43.69 497.42,54.16 498.06,54.90 498.80,54.69 499.07,54.16 499.07,43.90 501.56,41.07 503.03,40.23 505.42,40.23 506.53,40.86 506.89,41.38 507.54,43.69 507.54,54.16 508.18,54.90 509.10,54.48 509.19,43.06 508.27,40.02 507.91,39.50 505.79,38.34 502.66,38.34 500.55,39.50 498.61,41.59 498.15,40.02 497.79,39.50 495.67,38.34 492.27,38.45 490.43,39.50 489.05,41.07 488.86,38.76 488.31,38.34ZM459.79,38.76 459.70,54.16 459.97,54.69 460.71,54.90 461.35,54.16 461.35,43.90 463.84,41.07 465.31,40.23 467.70,40.23 468.80,40.86 469.17,41.38 469.82,43.69 469.82,54.16 470.46,54.90 471.20,54.69 471.47,54.16 471.47,43.90 473.96,41.07 475.43,40.23 477.82,40.23 478.93,40.86 479.29,41.38 479.94,43.69 479.94,54.16 480.58,54.90 481.50,54.48 481.59,43.06 480.67,40.02 480.31,39.50 478.19,38.34 475.06,38.34 472.94,39.50 471.01,41.59 470.55,40.02 470.18,39.50 468.07,38.34 464.66,38.45 462.82,39.50 461.44,41.07 461.26,38.76 460.71,38.34ZM429.61,38.55 429.33,39.08 429.43,54.48 430.35,54.90 430.99,54.16 430.99,43.90 433.48,41.07 434.95,40.23 437.34,40.23 438.72,41.17 439.36,43.27 439.46,54.16 440.10,54.90 440.84,54.69 441.11,54.16 441.11,43.06 440.10,39.81 437.71,38.34 434.58,38.34 432.46,39.50 431.08,41.07 430.90,38.76 430.35,38.34ZM416.09,38.34 414.06,39.50 411.95,41.90 410.93,45.15 410.93,48.09 411.95,51.33 414.06,53.74 416.18,54.90 419.31,54.90 421.42,53.74 423.54,51.33 424.55,48.09 424.55,45.15 423.54,41.90 421.42,39.50 419.31,38.34ZM416.55,40.23 418.94,40.23 420.41,41.07 422.07,42.95 422.89,45.78 422.89,47.46 422.07,50.29 420.41,52.17 418.94,53.01 416.55,53.01 415.07,52.17 413.42,50.29 412.59,47.46 412.59,45.78 413.42,42.95 415.07,41.07ZM405.14,38.34 404.49,39.08 404.49,54.16 404.77,54.69 405.51,54.90 406.15,54.16 406.15,39.08 405.87,38.55ZM378.18,39.50 376.06,41.90 375.05,45.15 375.05,48.09 376.06,51.33 378.18,53.74 380.30,54.90 383.42,54.90 385.54,53.74 386.00,53.22 386.09,54.16 386.37,54.69 386.74,54.90 387.47,54.69 387.75,54.16 387.66,38.76 387.10,38.34 386.37,38.55 386.09,39.08 386.00,40.02 385.54,39.50 383.42,38.34 380.30,38.34ZM380.66,40.23 383.06,40.23 384.53,41.07 386.09,42.85 386.09,50.39 384.53,52.17 383.06,53.01 380.66,53.01 379.19,52.17 377.54,50.29 376.71,47.46 376.71,45.78 377.54,42.95 379.19,41.07ZM358.22,38.34 357.57,39.08 357.57,54.16 357.85,54.69 358.58,54.90 359.23,54.16 359.23,39.08 358.95,38.55ZM347.54,38.34 344.42,38.34 342.30,39.50 341.84,40.02 341.65,38.76 341.10,38.34 340.37,38.55 340.09,39.08 340.09,61.50 340.73,62.23 341.47,62.02 341.75,61.50 341.75,53.32 344.42,54.90 347.82,54.79 349.66,53.74 351.78,51.33 352.79,48.09 352.79,45.15 351.78,41.90 349.66,39.50ZM344.78,40.23 347.18,40.23 348.65,41.07 350.30,42.95 351.13,45.78 351.13,47.46 350.30,50.29 348.65,52.17 347.18,53.01 344.78,53.01 343.31,52.17 341.75,50.39 341.75,42.85 343.31,41.07ZM333.37,38.34 332.73,39.08 332.73,54.16 333.01,54.69 333.74,54.90 334.39,54.16 334.39,39.08 334.11,38.55ZM320.49,38.34 318.38,39.50 316.26,41.90 315.25,45.15 315.25,48.09 316.26,51.33 318.38,53.74 320.49,54.90 323.62,54.90 325.74,53.74 327.85,51.33 327.85,50.29 327.30,49.87 326.57,50.08 324.73,52.17 323.25,53.01 320.86,53.01 319.39,52.17 317.73,50.29 316.91,47.46 316.91,45.78 317.64,43.16 319.39,41.07 320.86,40.23 323.25,40.23 324.73,41.07 326.93,43.37 327.67,43.16 327.95,42.22 325.74,39.50 323.90,38.45ZM303.93,38.34 301.82,39.50 299.70,41.90 298.69,45.15 298.69,48.09 299.70,51.33 301.82,53.74 303.93,54.90 307.06,54.90 309.18,53.74 311.29,51.33 311.29,50.29 310.74,49.87 310.01,50.08 308.17,52.17 306.69,53.01 304.30,53.01 302.83,52.17 301.17,50.29 300.44,47.88 300.35,46.62 310.74,46.51 311.39,45.78 311.39,43.27 310.37,40.86 309.18,39.50 307.06,38.34ZM300.71,44.42 301.17,42.95 302.83,41.07 304.30,40.23 306.69,40.23 308.17,41.07 308.99,42.01 309.73,43.69 309.64,44.63 300.81,44.63ZM296.39,38.55 296.02,38.34 292.89,38.34 290.78,39.50 289.40,41.07 289.21,38.76 288.66,38.34 287.74,38.76 287.65,54.16 287.92,54.69 288.66,54.90 289.30,54.16 289.30,45.78 290.13,42.95 291.79,41.07 293.26,40.23 296.02,40.23 296.39,40.02 296.66,39.50ZM277.62,38.34 274.49,38.34 272.38,39.50 271.92,40.02 271.73,38.76 271.18,38.34 270.44,38.55 270.17,39.08 270.17,61.50 270.81,62.23 271.55,62.02 271.82,61.50 271.82,53.32 274.49,54.90 277.90,54.79 279.74,53.74 281.85,51.33 282.86,48.09 282.86,45.15 281.85,41.90 279.74,39.50ZM274.86,40.23 277.25,40.23 278.72,41.07 280.38,42.95 281.21,45.78 281.21,47.46 280.38,50.29 278.72,52.17 277.25,53.01 274.86,53.01 273.39,52.17 271.82,50.39 271.82,42.85 273.39,41.07ZM225.73,38.34 223.61,39.50 221.50,41.90 220.49,45.15 220.49,48.09 221.50,51.33 223.61,53.74 225.73,54.90 228.86,54.90 230.97,53.74 233.09,51.33 233.09,50.29 232.54,49.87 231.80,50.08 229.96,52.17 228.49,53.01 226.10,53.01 224.63,52.17 222.97,50.29 222.23,47.88 222.14,46.62 232.54,46.51 233.18,45.78 233.18,43.27 232.17,40.86 230.97,39.50 228.86,38.34ZM222.51,44.42 222.97,42.95 224.63,41.07 226.10,40.23 228.49,40.23 229.96,41.07 230.79,42.01 231.53,43.69 231.43,44.63 222.60,44.63ZM195.09,39.50 192.98,41.90 191.96,45.15 191.96,48.09 192.98,51.33 195.09,53.74 197.21,54.90 200.34,54.90 202.45,53.74 202.91,53.22 203.00,54.16 203.28,54.69 203.65,54.90 204.38,54.69 204.66,54.16 204.57,38.76 204.02,38.34 203.28,38.55 203.00,39.08 202.91,40.02 202.45,39.50 200.34,38.34 197.21,38.34ZM197.58,40.23 199.97,40.23 201.44,41.07 203.00,42.85 203.00,50.39 201.44,52.17 199.97,53.01 197.58,53.01 196.10,52.17 194.45,50.29 193.62,47.46 193.62,45.78 194.45,42.95 196.10,41.07ZM186.54,38.34 185.62,38.76 185.43,40.02 184.97,39.50 182.86,38.34 179.45,38.45 177.61,39.50 175.50,41.90 174.48,45.15 174.48,48.09 175.40,51.12 177.61,53.74 179.73,54.90 182.86,54.90 185.52,53.32 185.43,56.26 184.70,58.67 183.96,59.50 182.49,60.34 180.10,60.34 178.26,59.30 177.34,59.71 177.24,60.45 177.61,61.08 179.73,62.23 182.86,62.23 184.97,61.08 186.17,59.71 187.18,56.47 187.18,39.08ZM180.10,40.23 182.49,40.23 183.96,41.07 185.52,42.85 185.52,50.39 183.96,52.17 182.49,53.01 180.10,53.01 178.62,52.17 176.97,50.29 176.14,47.46 176.14,45.78 176.97,42.95 178.62,41.07ZM163.17,38.34 161.05,39.50 158.93,41.90 157.92,45.15 157.92,48.09 158.93,51.33 161.05,53.74 163.17,54.90 166.30,54.90 168.41,53.74 170.53,51.33 170.53,50.29 169.98,49.87 169.24,50.08 167.40,52.17 165.93,53.01 163.53,53.01 162.06,52.17 160.41,50.29 159.67,47.88 159.58,46.62 169.98,46.51 170.62,45.78 170.62,43.27 169.61,40.86 168.41,39.50 166.30,38.34ZM159.95,44.42 160.41,42.95 162.06,41.07 163.53,40.23 165.93,40.23 167.40,41.07 168.23,42.01 168.96,43.69 168.87,44.63 160.04,44.63ZM155.62,38.55 155.25,38.34 152.13,38.34 150.01,39.50 148.63,41.07 148.45,38.76 147.89,38.34 146.97,38.76 146.88,54.16 147.16,54.69 147.89,54.90 148.54,54.16 148.54,45.78 149.37,42.95 151.02,41.07 152.49,40.23 155.25,40.23 155.62,40.02 155.90,39.50ZM140.53,38.34 139.61,38.76 139.43,40.02 138.97,39.50 136.85,38.34 133.45,38.45 131.61,39.50 129.49,41.90 128.48,45.15 128.48,48.09 129.40,51.12 131.61,53.74 133.73,54.90 136.85,54.90 139.52,53.32 139.43,56.26 138.69,58.67 137.96,59.50 136.49,60.34 134.09,60.34 132.25,59.30 131.33,59.71 131.24,60.45 131.61,61.08 133.73,62.23 136.85,62.23 138.97,61.08 140.17,59.71 141.18,56.47 141.18,39.08ZM134.09,40.23 136.49,40.23 137.96,41.07 139.52,42.85 139.52,50.39 137.96,52.17 136.49,53.01 134.09,53.01 132.62,52.17 130.97,50.29 130.14,47.46 130.14,45.78 130.97,42.95 132.62,41.07ZM123.05,38.34 122.13,38.76 121.95,40.02 121.49,39.50 119.37,38.34 115.97,38.45 114.13,39.50 112.01,41.90 111.00,45.15 111.00,48.09 111.92,51.12 114.13,53.74 116.24,54.90 119.37,54.90 122.04,53.32 121.95,56.26 121.21,58.67 120.48,59.50 119.00,60.34 116.61,60.34 114.77,59.30 113.85,59.71 113.76,60.45 114.13,61.08 116.24,62.23 119.37,62.23 121.49,61.08 122.69,59.71 123.70,56.47 123.70,39.08ZM116.61,40.23 119.00,40.23 120.48,41.07 122.04,42.85 122.04,50.39 120.48,52.17 119.00,53.01 116.61,53.01 115.14,52.17 113.48,50.29 112.66,47.46 112.66,45.78 113.48,42.95 115.14,41.07ZM96.65,39.50 94.53,41.90 93.52,45.15 93.52,48.09 94.53,51.33 96.65,53.74 98.76,54.90 101.89,54.90 104.01,53.74 104.47,53.22 104.56,54.16 104.84,54.69 105.20,54.90 105.94,54.69 106.22,54.16 106.12,38.76 105.57,38.34 104.84,38.55 104.56,39.08 104.47,40.02 104.01,39.50 101.89,38.34 98.76,38.34ZM99.13,40.23 101.52,40.23 103.00,41.07 104.56,42.85 104.56,50.39 103.00,52.17 101.52,53.01 99.13,53.01 97.66,52.17 96.00,50.29 95.18,47.46 95.18,45.78 96.00,42.95 97.66,41.07ZM82.11,38.34 79.35,39.39 78.89,39.81 77.88,42.22 77.97,42.95 78.89,45.05 81.47,46.62 85.61,47.46 87.17,48.30 88.00,49.97 88.00,50.60 87.17,52.17 84.96,53.01 82.57,53.01 80.55,52.28 80.09,51.86 79.44,50.29 78.89,49.87 78.16,50.08 77.88,51.02 78.89,53.43 79.35,53.85 82.11,54.90 85.42,54.90 88.46,53.64 89.56,51.33 89.66,49.55 88.64,47.14 86.07,45.57 81.65,44.63 80.18,43.69 79.72,42.22 80.36,41.07 82.57,40.23 84.96,40.23 86.99,40.96 87.45,41.38 88.09,42.95 88.64,43.37 89.38,43.16 89.66,42.22 88.64,39.81 88.18,39.39 85.42,38.34ZM72.08,38.34 71.44,39.08 71.44,54.16 71.71,54.69 72.45,54.90 73.09,54.16 73.09,39.08 72.82,38.55ZM943.27,31.01 942.72,31.53 933.79,45.78 933.52,46.83 934.16,47.56 942.63,47.56 942.72,54.16 942.99,54.69 943.73,54.90 944.37,54.16 944.37,47.67 948.33,47.56 948.88,47.14 948.97,46.41 948.33,45.68 944.37,45.57 944.37,31.53 943.82,31.01ZM942.63,35.10 942.72,45.57 936.19,45.68 936.09,45.47ZM920.08,31.11 918.24,32.16 917.05,33.52 916.04,35.93 916.04,37.40 916.31,37.92 917.05,38.13 917.60,37.71 917.69,36.35 918.43,34.68 919.26,33.73 920.73,32.90 924.04,32.90 925.51,33.73 926.34,34.68 927.08,36.35 927.08,38.03 926.07,40.23 924.50,42.85 915.21,53.43 915.21,54.48 915.76,54.90 929.01,54.90 929.65,54.16 929.56,53.43 929.01,53.01 918.06,52.90 925.97,43.90 927.72,40.86 928.73,38.45 928.64,35.62 927.72,33.52 926.53,32.16 924.41,31.01ZM902.70,31.01 899.75,32.27 897.73,35.62 896.72,40.96 896.72,44.94 897.54,49.76 899.48,53.32 900.03,53.85 902.79,54.90 905.18,54.90 908.22,53.64 910.24,50.29 911.25,44.94 911.25,40.96 910.42,36.14 908.49,32.58 907.94,32.06 905.18,31.01ZM903.25,32.90 904.72,32.90 907.02,33.73 908.77,36.67 909.60,41.49 909.60,44.42 908.77,49.24 907.02,52.17 904.72,53.01 903.25,53.01 900.95,52.17 899.20,49.24 898.37,44.42 898.37,41.49 899.20,36.67 900.95,33.73ZM883.28,31.11 881.44,32.16 880.25,33.52 879.23,35.93 879.23,37.40 879.51,37.92 880.25,38.13 880.80,37.71 880.89,36.35 881.63,34.68 882.46,33.73 883.93,32.90 887.24,32.90 888.71,33.73 889.54,34.68 890.28,36.35 890.28,38.03 889.26,40.23 887.70,42.85 878.41,53.43 878.41,54.48 878.96,54.90 892.21,54.90 892.85,54.16 892.76,53.43 892.21,53.01 881.26,52.90 889.17,43.90 890.92,40.86 891.93,38.45 891.84,35.62 890.92,33.52 889.72,32.16 887.61,31.01ZM847.68,31.01 847.13,31.43 846.11,40.75 846.21,41.90 847.13,42.32 848.32,41.17 850.81,40.23 853.20,40.23 855.50,41.07 857.34,43.16 858.07,45.78 858.07,47.46 857.25,50.29 855.68,52.07 853.20,53.01 850.81,53.01 848.32,52.07 847.59,51.23 846.76,49.24 846.21,48.82 845.29,49.24 845.29,50.29 846.21,52.38 847.31,53.64 850.35,54.90 853.66,54.90 856.42,53.85 858.72,51.33 859.73,48.09 859.73,45.15 858.72,41.90 856.42,39.39 853.66,38.34 850.35,38.34 848.32,39.18 848.05,39.08 848.69,32.90 857.25,32.90 857.80,32.48 857.80,31.43 857.25,31.01ZM832.77,31.01 829.83,32.27 827.80,35.62 826.79,40.96 826.79,44.94 827.62,49.76 829.55,53.32 830.10,53.85 832.86,54.90 835.26,54.90 838.29,53.64 840.32,50.29 841.33,44.94 841.33,40.96 840.50,36.14 838.57,32.58 838.02,32.06 835.26,31.01ZM833.32,32.90 834.80,32.90 837.10,33.73 838.85,36.67 839.67,41.49 839.67,44.42 838.85,49.24 837.10,52.17 834.80,53.01 833.32,53.01 831.02,52.17 829.28,49.24 828.45,44.42 828.45,41.49 829.28,36.67 831.02,33.73ZM802.14,31.01 788.79,31.01 788.24,31.43 788.24,32.48 788.79,32.90 800.48,33.00 791.92,53.43 791.92,54.48 792.48,54.90 793.40,54.48 802.69,32.37 802.69,31.53ZM775.73,31.01 772.79,32.27 770.76,35.62 769.75,40.96 769.75,44.94 770.58,49.76 772.51,53.32 773.06,53.85 775.82,54.90 778.21,54.90 781.25,53.64 783.27,50.29 784.29,44.94 784.29,40.96 783.46,36.14 781.53,32.58 780.97,32.06 778.21,31.01ZM776.28,32.90 777.75,32.90 780.05,33.73 781.80,36.67 782.63,41.49 782.63,44.42 781.80,49.24 780.05,52.17 777.75,53.01 776.28,53.01 773.98,52.17 772.23,49.24 771.41,44.42 771.41,41.49 772.23,36.67 773.98,33.73ZM736.90,31.22 736.63,32.16 737.27,32.90 748.59,32.90 748.68,33.10 736.63,53.53 736.72,54.48 737.18,54.90 750.52,54.90 750.89,54.69 751.17,53.74 750.52,53.01 739.20,53.01 739.11,52.80 751.07,32.48 751.17,31.53 750.61,31.01 737.27,31.01ZM726.23,31.01 723.10,34.36 721.36,35.30 721.08,35.62 720.99,36.35 721.63,37.09 722.28,36.98 724.12,35.93 725.59,34.47 725.59,54.16 725.86,54.69 726.60,54.90 727.24,54.16 727.24,31.74 726.97,31.22ZM705.81,31.01 702.86,32.27 700.84,35.62 699.83,40.96 699.83,44.94 700.65,49.76 702.59,53.32 703.14,53.85 705.90,54.90 708.29,54.90 711.33,53.64 713.35,50.29 714.36,44.94 714.36,40.96 713.54,36.14 711.60,32.58 711.05,32.06 708.29,31.01ZM706.36,32.90 707.83,32.90 710.13,33.73 711.88,36.67 712.71,41.49 712.71,44.42 711.88,49.24 710.13,52.17 707.83,53.01 706.36,53.01 704.06,52.17 702.31,49.24 701.48,44.42 701.48,41.49 702.31,36.67 704.06,33.73ZM679.68,31.01 678.94,31.22 678.67,31.74 678.67,39.91 676.00,38.34 672.59,38.45 670.75,39.50 668.64,41.90 667.63,45.15 667.63,48.09 668.64,51.33 670.75,53.74 672.87,54.90 676.00,54.90 678.11,53.74 678.57,53.22 678.76,54.48 679.31,54.90 680.05,54.69 680.32,54.16 680.32,31.74ZM673.24,40.23 675.63,40.23 677.10,41.07 678.67,42.85 678.67,50.39 677.10,52.17 675.63,53.01 673.24,53.01 671.77,52.17 670.11,50.29 669.28,47.46 669.28,45.78 670.11,42.95 671.77,41.07ZM654.47,31.01 653.82,31.74 653.82,54.16 654.10,54.69 654.84,54.90 655.48,54.16 655.48,31.74 655.20,31.22ZM617.67,31.01 617.12,31.43 617.02,32.37 624.38,54.37 624.94,54.90 625.49,54.90 626.04,54.37 633.40,32.37 633.31,31.43 632.39,31.01 631.74,31.64 625.21,51.12 618.68,31.64 618.40,31.22ZM585.19,31.11 584.82,31.53 584.91,54.48 585.83,54.90 586.48,54.16 586.57,35.30 597.70,54.37 598.25,54.90 598.99,54.79 599.36,54.27 599.27,31.43 598.35,31.01 597.70,31.74 597.61,50.60 586.48,31.53 585.93,31.01ZM569.73,31.01 567.71,32.16 565.59,34.57 564.58,36.88 563.66,39.91 563.66,45.99 564.58,49.03 565.59,51.33 567.71,53.74 569.83,54.90 573.87,54.90 575.99,53.74 578.11,51.33 579.12,49.03 580.04,45.99 580.04,39.91 579.12,36.88 578.11,34.57 575.99,32.16 573.87,31.01ZM570.19,32.90 573.51,32.90 574.98,33.73 576.73,35.72 577.65,37.92 578.38,40.54 578.38,45.36 577.46,48.50 576.73,50.18 574.98,52.17 573.51,53.01 570.19,53.01 568.72,52.17 566.97,50.18 566.05,47.98 565.32,45.36 565.32,40.54 566.24,37.40 566.97,35.72 568.72,33.73ZM542.87,31.11 542.50,31.53 542.59,54.48 543.51,54.90 544.16,54.16 544.16,37.61 544.34,37.61 549.86,54.37 550.41,54.90 550.96,54.90 551.52,54.37 557.13,37.50 557.22,54.16 557.86,54.90 558.60,54.69 558.88,54.16 558.88,31.53 558.32,31.01 557.77,31.01 557.22,31.53 550.69,51.12 544.16,31.53 543.60,31.01ZM395.02,31.01 394.37,31.74 394.37,38.24 392.26,38.34 391.71,38.76 391.61,39.50 392.26,40.23 394.37,40.33 394.37,50.18 395.39,53.43 397.78,54.90 399.99,54.90 400.54,54.48 400.54,53.43 399.99,53.01 398.15,53.01 397.04,52.38 396.67,51.86 396.03,49.55 396.03,40.33 399.07,40.23 399.62,39.81 399.71,39.08 399.07,38.34 396.03,38.24 396.03,31.74 395.75,31.22ZM366.50,31.01 365.85,31.74 365.85,38.24 363.74,38.34 363.18,38.76 363.09,39.50 363.74,40.23 365.85,40.33 365.85,50.18 366.86,53.43 369.26,54.90 371.46,54.90 372.02,54.48 372.02,53.43 371.46,53.01 369.62,53.01 368.52,52.38 368.15,51.86 367.51,49.55 367.51,40.33 370.54,40.23 371.10,39.81 371.19,39.08 370.54,38.34 367.51,38.24 367.51,31.74 367.23,31.22ZM249.10,31.01 248.36,31.22 248.09,31.74 248.09,39.91 245.42,38.34 242.01,38.45 240.17,39.50 238.06,41.90 237.05,45.15 237.05,48.09 238.06,51.33 240.17,53.74 242.29,54.90 245.42,54.90 247.53,53.74 247.99,53.22 248.18,54.48 248.73,54.90 249.47,54.69 249.74,54.16 249.74,31.74ZM242.66,40.23 245.05,40.23 246.52,41.07 248.09,42.85 248.09,50.39 246.52,52.17 245.05,53.01 242.66,53.01 241.19,52.17 239.53,50.29 238.70,47.46 238.70,45.78 239.53,42.95 241.19,41.07ZM211.93,31.01 211.29,31.74 211.29,38.24 209.17,38.34 208.62,38.76 208.52,39.50 209.17,40.23 211.29,40.33 211.29,50.18 212.30,53.43 214.69,54.90 216.90,54.90 217.45,54.48 217.45,53.43 216.90,53.01 215.06,53.01 213.95,52.38 213.59,51.86 212.94,49.55 212.94,40.33 215.98,40.23 216.53,39.81 216.62,39.08 215.98,38.34 212.94,38.24 212.94,31.74 212.67,31.22ZM52.67,31.01 52.12,31.53 52.12,54.27 52.67,54.90 59.66,54.90 62.42,53.85 64.72,51.33 65.73,49.03 66.65,45.99 66.65,39.91 65.73,36.88 64.72,34.57 62.42,32.06 59.66,31.01ZM53.87,32.90 59.20,32.90 61.50,33.73 63.34,35.72 64.08,37.40 65.00,40.54 65.00,45.36 64.26,47.98 63.34,50.18 61.50,52.17 59.20,53.01 53.77,52.90ZM661.83,29.96 660.27,31.53 660.27,32.27 661.46,33.73 662.20,33.94 663.67,32.48 663.76,31.74 662.57,30.17ZM405.14,29.96 403.57,31.53 403.57,32.27 404.77,33.73 405.51,33.94 406.98,32.48 407.07,31.74 405.87,30.17ZM358.22,29.96 356.65,31.53 356.65,32.27 357.85,33.73 358.58,33.94 360.06,32.48 360.15,31.74 358.95,30.17ZM333.37,29.96 331.81,31.53 331.81,32.27 333.01,33.73 333.74,33.94 335.21,32.48 335.31,31.74 334.11,30.17ZM72.08,29.96 70.52,31.53 70.52,32.27 71.71,33.73 72.45,33.94 73.92,32.48 74.01,31.74 72.82,30.17ZM823.57,27.03 822.84,26.82 822.01,27.76 805.63,61.08 805.91,62.02 806.64,62.23 807.47,61.29 823.85,27.97ZM514.62,26.82 514.07,27.24 514.07,28.29 516.00,30.49 517.84,33.63 519.59,37.71 520.42,42.53 520.42,46.51 519.59,51.33 517.57,55.94 516.00,58.56 514.07,60.76 514.07,61.81 514.99,62.23 517.47,59.61 519.22,56.57 521.25,51.86 522.07,47.04 522.07,42.01 521.25,37.19 519.22,32.48 517.47,29.44 515.36,27.03ZM453.90,26.82 451.42,29.44 449.67,32.48 447.64,37.19 446.82,42.01 446.82,47.04 447.64,51.86 449.67,56.57 451.42,59.61 453.53,62.02 454.27,62.23 454.82,61.81 454.82,60.76 452.89,58.56 451.05,55.42 449.30,51.33 448.47,46.51 448.47,42.53 449.30,37.71 451.32,33.10 452.89,30.49 454.82,28.29 454.82,27.24Z" fill="#000" fill-rule="evenodd"/>
<path d="M209.91,144.63 209.18,145.36 209.10,145.90 209.75,146.72 210.23,146.81 210.96,146.08 211.04,145.54 210.40,144.72ZM229.54,136.13 229.30,136.49 229.30,146.35 229.38,146.53 229.70,146.81 230.03,146.81 230.43,146.35 230.47,138.89 235.00,146.49 235.36,146.81 235.84,146.72 236.09,146.35 236.09,136.49 236.00,136.31 235.68,136.04 235.36,136.04 234.95,136.49 234.91,143.96 230.39,136.36 230.03,136.04ZM223.12,136.08 222.27,136.58 221.63,137.35 221.22,138.30 221.22,139.12 221.46,139.48 221.63,139.57 222.11,139.48 222.35,139.12 222.35,138.66 222.64,137.98 222.96,137.62 223.56,137.31 224.86,137.31 225.46,137.62 225.79,137.98 226.03,138.53 226.07,139.21 225.79,139.88 224.98,141.24 220.90,145.81 220.82,146.35 221.22,146.81 227.20,146.81 227.60,146.35 227.52,145.81 227.20,145.54 222.80,145.49 225.95,141.97 226.80,140.52 227.20,139.57 227.16,138.17 226.71,137.22 226.15,136.58 225.18,136.04ZM215.12,136.04 213.79,136.58 213.55,136.90 213.14,137.85 213.18,139.25 213.63,140.20 214.19,140.65 213.22,141.74 212.78,142.69 212.74,144.54 213.22,145.63 213.95,146.35 215.12,146.81 217.14,146.81 218.47,146.26 219.04,145.63 219.52,144.54 219.48,142.69 219.04,141.74 218.07,140.65 218.64,140.20 219.08,139.25 219.12,137.85 218.72,136.90 218.31,136.49 217.14,136.04ZM214.15,142.51 214.84,141.74 216.09,141.29 217.42,141.74 218.11,142.51 218.35,143.05 218.35,144.32 218.11,144.86 217.83,145.18 216.86,145.54 215.40,145.54 214.44,145.18 214.15,144.86 213.87,144.18 213.87,143.19ZM214.27,138.21 214.56,137.62 215.28,137.35 216.86,137.31 217.79,137.71 217.99,138.21 217.99,138.75 217.63,139.43 216.98,139.75 216.09,139.97 215.28,139.75 214.64,139.43 214.31,138.89ZM203.81,136.04 202.48,136.58 201.43,138.30 201.03,140.52 201.03,143.23 201.51,145.18 202.48,146.26 203.81,146.81 204.62,146.81 205.95,146.26 206.92,145.18 207.41,143.68 207.41,142.78 206.92,141.29 205.79,140.11 204.62,139.66 203.81,139.66 202.64,140.11 202.24,140.38 202.52,138.75 203.25,137.62 204.10,137.31 204.74,137.31 205.59,137.62 205.95,138.39 206.28,138.66 206.76,138.57 207.00,138.21 206.96,137.71 206.60,136.90 206.36,136.58 205.02,136.04ZM204.10,140.92 204.34,140.92 205.31,141.29 205.95,142.01 206.28,143.10 206.28,143.37 205.95,144.45 205.31,145.18 204.34,145.54 204.10,145.54 203.13,145.18 202.52,144.50 202.20,143.14 202.48,142.01 203.13,141.29ZM196.18,136.04 194.76,137.53 194.00,137.94 193.75,138.30 193.75,138.66 194.00,139.03 194.48,139.12 195.33,138.66 195.77,138.30 195.77,146.35 196.02,146.72 196.50,146.81 196.91,146.35 196.91,136.49 196.66,136.13Z" fill="#000" fill-rule="evenodd"/>
<path d="M217.99,217.63 217.26,218.36 217.18,218.90 217.83,219.72 218.31,219.81 219.04,219.08 219.12,218.54 218.47,217.72ZM229.54,209.13 229.30,209.49 229.30,219.35 229.38,219.53 229.70,219.81 230.03,219.81 230.43,219.35 230.47,211.89 235.00,219.49 235.36,219.81 235.84,219.72 236.09,219.35 236.09,209.49 236.00,209.31 235.68,209.04 235.36,209.04 234.95,209.49 234.91,216.96 230.39,209.36 230.03,209.04ZM223.20,209.04 221.87,209.58 221.63,209.90 221.22,210.85 221.26,212.25 221.71,213.20 222.27,213.65 221.30,214.74 220.86,215.69 220.82,217.54 221.30,218.63 222.03,219.35 223.20,219.81 225.22,219.81 226.55,219.26 227.12,218.63 227.60,217.54 227.56,215.69 227.12,214.74 226.15,213.65 226.71,213.20 227.16,212.25 227.20,210.85 226.80,209.90 226.39,209.49 225.22,209.04ZM222.23,215.51 222.92,214.74 224.17,214.29 225.50,214.74 226.19,215.51 226.43,216.05 226.43,217.32 226.19,217.86 225.91,218.18 224.94,218.54 223.48,218.54 222.51,218.18 222.23,217.86 221.95,217.18 221.95,216.19ZM222.35,211.21 222.64,210.62 223.36,210.35 224.94,210.31 225.87,210.71 226.07,211.21 226.07,211.75 225.70,212.43 225.06,212.75 224.17,212.97 223.36,212.75 222.72,212.43 222.39,211.89ZM211.89,209.04 210.56,209.58 209.51,211.30 209.10,213.52 209.10,216.23 209.59,218.18 210.56,219.26 211.89,219.81 212.70,219.81 214.03,219.26 215.00,218.18 215.49,216.68 215.49,215.78 215.00,214.29 213.87,213.11 212.70,212.66 211.89,212.66 210.72,213.11 210.32,213.38 210.60,211.75 211.33,210.62 212.17,210.31 212.82,210.31 213.67,210.62 214.03,211.39 214.35,211.66 214.84,211.57 215.08,211.21 215.04,210.71 214.68,209.90 214.44,209.58 213.10,209.04ZM212.17,213.92 212.42,213.92 213.39,214.29 214.03,215.01 214.35,216.10 214.35,216.37 214.03,217.45 213.39,218.18 212.42,218.54 212.17,218.54 211.20,218.18 210.60,217.50 210.28,216.14 210.56,215.01 211.20,214.29ZM204.26,209.04 202.84,210.53 202.08,210.94 201.83,211.30 201.83,211.66 202.08,212.03 202.56,212.12 203.41,211.66 203.85,211.30 203.85,219.35 204.10,219.72 204.58,219.81 204.98,219.35 204.98,209.49 204.74,209.13Z" fill="#000" fill-rule="evenodd"/>
<path d="M209.91,290.63 209.18,291.36 209.10,291.90 209.75,292.72 210.23,292.81 210.96,292.08 211.04,291.54 210.40,290.72ZM229.54,282.13 229.30,282.49 229.30,292.35 229.38,292.53 229.70,292.81 230.03,292.81 230.43,292.35 230.47,284.89 235.00,292.49 235.36,292.81 235.84,292.72 236.09,292.35 236.09,282.49 236.00,282.31 235.68,282.04 235.36,282.04 234.95,282.49 234.91,289.96 230.39,282.36 230.03,282.04ZM223.20,282.04 221.87,282.58 221.63,282.90 221.22,283.85 221.26,285.25 221.71,286.20 222.27,286.65 221.30,287.74 220.86,288.69 220.82,290.54 221.30,291.63 222.03,292.35 223.20,292.81 225.22,292.81 226.55,292.26 227.12,291.63 227.60,290.54 227.56,288.69 227.12,287.74 226.15,286.65 226.71,286.20 227.16,285.25 227.20,283.85 226.80,282.90 226.39,282.49 225.22,282.04ZM222.23,288.51 222.92,287.74 224.17,287.29 225.50,287.74 226.19,288.51 226.43,289.05 226.43,290.32 226.19,290.86 225.91,291.18 224.94,291.54 223.48,291.54 222.51,291.18 222.23,290.86 221.95,290.18 221.95,289.19ZM222.35,284.21 222.64,283.62 223.36,283.35 224.94,283.31 225.87,283.71 226.07,284.21 226.07,284.75 225.70,285.43 225.06,285.75 224.17,285.97 223.36,285.75 222.72,285.43 222.39,284.89ZM219.12,282.04 213.14,282.04 212.74,282.49 212.82,283.03 213.14,283.31 218.03,283.35 214.40,291.86 214.35,292.35 214.76,292.81 215.08,292.81 215.49,292.40 219.48,282.99 219.52,282.49ZM203.81,282.04 202.48,282.58 201.43,284.30 201.03,286.52 201.03,289.23 201.51,291.18 202.48,292.26 203.81,292.81 204.62,292.81 205.95,292.26 206.92,291.18 207.41,289.68 207.41,288.78 206.92,287.29 205.79,286.11 204.62,285.66 203.81,285.66 202.64,286.11 202.24,286.38 202.52,284.75 203.25,283.62 204.10,283.31 204.74,283.31 205.59,283.62 205.95,284.39 206.28,284.66 206.76,284.57 207.00,284.21 206.96,283.71 206.60,282.90 206.36,282.58 205.02,282.04ZM204.10,286.92 204.34,286.92 205.31,287.29 205.95,288.01 206.28,289.10 206.28,289.37 205.95,290.45 205.31,291.18 204.34,291.54 204.10,291.54 203.13,291.18 202.52,290.50 202.20,289.14 202.48,288.01 203.13,287.29ZM196.18,282.04 194.76,283.53 194.00,283.94 193.75,284.30 193.75,284.66 194.00,285.02 194.48,285.12 195.33,284.66 195.77,284.30 195.77,292.35 196.02,292.72 196.50,292.81 196.91,292.35 196.91,282.49 196.66,282.13Z" fill="#000" fill-rule="evenodd"/>
<path d="M209.91,363.63 209.18,364.36 209.10,364.90 209.75,365.72 210.23,365.81 210.96,365.08 211.04,364.54 210.40,363.72ZM229.54,355.13 229.30,355.49 229.30,365.35 229.38,365.53 229.70,365.81 230.03,365.81 230.43,365.35 230.47,357.89 235.00,365.49 235.36,365.81 235.84,365.72 236.09,365.35 236.09,355.49 236.00,355.31 235.68,355.04 235.36,355.04 234.95,355.49 234.91,362.96 230.39,355.36 230.03,355.04ZM224.01,355.04 222.68,355.58 221.63,357.30 221.22,359.52 221.22,362.23 221.71,364.18 222.68,365.26 224.01,365.81 224.82,365.81 226.15,365.26 227.12,364.18 227.60,362.68 227.60,361.78 227.12,360.29 225.99,359.11 224.82,358.66 224.01,358.66 222.84,359.11 222.43,359.38 222.72,357.75 223.44,356.62 224.29,356.31 224.94,356.31 225.79,356.62 226.15,357.39 226.47,357.66 226.96,357.57 227.20,357.21 227.16,356.71 226.80,355.90 226.55,355.58 225.22,355.04ZM224.29,359.92 224.53,359.92 225.50,360.29 226.15,361.01 226.47,362.10 226.47,362.37 226.15,363.45 225.50,364.18 224.53,364.54 224.29,364.54 223.32,364.18 222.72,363.50 222.39,362.14 222.68,361.01 223.32,360.29ZM219.12,355.04 213.14,355.04 212.74,355.49 212.82,356.03 213.14,356.31 218.03,356.35 214.40,364.86 214.35,365.35 214.76,365.81 215.08,365.81 215.49,365.40 219.48,355.99 219.52,355.49ZM203.81,355.04 202.48,355.58 201.43,357.30 201.03,359.52 201.03,362.23 201.51,364.18 202.48,365.26 203.81,365.81 204.62,365.81 205.95,365.26 206.92,364.18 207.41,362.68 207.41,361.78 206.92,360.29 205.79,359.11 204.62,358.66 203.81,358.66 202.64,359.11 202.24,359.38 202.52,357.75 203.25,356.62 204.10,356.31 204.74,356.31 205.59,356.62 205.95,357.39 206.28,357.66 206.76,357.57 207.00,357.21 206.96,356.71 206.60,355.90 206.36,355.58 205.02,355.04ZM204.10,359.92 204.34,359.92 205.31,360.29 205.95,361.01 206.28,362.10 206.28,362.37 205.95,363.45 205.31,364.18 204.34,364.54 204.10,364.54 203.13,364.18 202.52,363.50 202.20,362.14 202.48,361.01 203.13,360.29ZM196.18,355.04 194.76,356.53 194.00,356.94 193.75,357.30 193.75,357.66 194.00,358.02 194.48,358.12 195.33,357.66 195.77,357.30 195.77,365.35 196.02,365.72 196.50,365.81 196.91,365.35 196.91,355.49 196.66,355.13Z" fill="#000" fill-rule="evenodd"/>
<path d="M209.91,436.63 209.18,437.36 209.10,437.90 209.75,438.72 210.23,438.81 210.96,438.08 211.04,437.54 210.40,436.72ZM229.54,428.13 229.30,428.49 229.30,438.35 229.38,438.53 229.70,438.81 230.03,438.81 230.43,438.35 230.47,430.89 235.00,438.49 235.36,438.81 235.84,438.72 236.09,438.35 236.09,428.49 236.00,428.31 235.68,428.04 235.36,428.04 234.95,428.49 234.91,435.96 230.39,428.36 230.03,428.04ZM225.26,428.04 224.90,428.36 220.82,434.82 220.82,435.19 221.22,435.64 224.82,435.64 224.86,438.35 225.10,438.72 225.58,438.81 225.99,438.35 225.99,435.68 227.60,435.64 227.93,435.37 228.01,434.82 227.60,434.37 225.99,434.33 225.99,428.49 225.75,428.13ZM224.82,430.75 224.86,434.33 222.55,434.37 222.68,434.06ZM219.12,428.04 213.14,428.04 212.74,428.49 212.82,429.03 213.14,429.31 218.03,429.35 214.40,437.86 214.35,438.35 214.76,438.81 215.08,438.81 215.49,438.40 219.48,428.99 219.52,428.49ZM203.81,428.04 202.48,428.58 201.43,430.30 201.03,432.52 201.03,435.23 201.51,437.18 202.48,438.26 203.81,438.81 204.62,438.81 205.95,438.26 206.92,437.18 207.41,435.68 207.41,434.78 206.92,433.29 205.79,432.11 204.62,431.66 203.81,431.66 202.64,432.11 202.24,432.38 202.52,430.75 203.25,429.62 204.10,429.31 204.74,429.31 205.59,429.62 205.95,430.39 206.28,430.66 206.76,430.57 207.00,430.21 206.96,429.71 206.60,428.90 206.36,428.58 205.02,428.04ZM204.10,432.92 204.34,432.92 205.31,433.29 205.95,434.01 206.28,435.10 206.28,435.37 205.95,436.45 205.31,437.18 204.34,437.54 204.10,437.54 203.13,437.18 202.52,436.50 202.20,435.14 202.48,434.01 203.13,433.29ZM196.18,428.04 194.76,429.53 194.00,429.94 193.75,430.30 193.75,430.66 194.00,431.02 194.48,431.12 195.33,430.66 195.77,430.30 195.77,438.35 196.02,438.72 196.50,438.81 196.91,438.35 196.91,428.49 196.66,428.13Z" fill="#000" fill-rule="evenodd"/>
<path d="M209.91,510.63 209.18,511.36 209.10,511.90 209.75,512.72 210.23,512.81 210.96,512.08 211.04,511.54 210.40,510.72ZM229.54,502.13 229.30,502.49 229.30,512.35 229.38,512.53 229.70,512.81 230.03,512.81 230.43,512.35 230.47,504.89 235.00,512.49 235.36,512.81 235.84,512.72 236.09,512.35 236.09,502.49 236.00,502.31 235.68,502.04 235.36,502.04 234.95,502.49 234.91,509.96 230.39,502.36 230.03,502.04ZM223.12,502.08 222.27,502.58 221.63,503.35 221.22,504.30 221.22,505.12 221.46,505.48 221.63,505.57 222.11,505.48 222.35,505.12 222.35,504.66 222.64,503.98 222.96,503.62 223.56,503.31 224.86,503.31 225.46,503.62 225.79,503.98 226.03,504.53 226.07,505.21 225.79,505.88 224.98,507.24 220.90,511.81 220.82,512.35 221.22,512.81 227.20,512.81 227.60,512.35 227.52,511.81 227.20,511.54 222.80,511.49 225.95,507.97 226.80,506.52 227.20,505.57 227.16,504.17 226.71,503.22 226.15,502.58 225.18,502.04ZM219.12,502.04 213.14,502.04 212.74,502.49 212.82,503.03 213.14,503.31 218.03,503.35 214.40,511.86 214.35,512.35 214.76,512.81 215.08,512.81 215.49,512.40 219.48,502.99 219.52,502.49ZM203.81,502.04 202.48,502.58 201.43,504.30 201.03,506.52 201.03,509.23 201.51,511.18 202.48,512.26 203.81,512.81 204.62,512.81 205.95,512.26 206.92,511.18 207.41,509.68 207.41,508.78 206.92,507.29 205.79,506.11 204.62,505.66 203.81,505.66 202.64,506.11 202.24,506.38 202.52,504.75 203.25,503.62 204.10,503.31 204.74,503.31 205.59,503.62 205.95,504.39 206.28,504.66 206.76,504.57 207.00,504.21 206.96,503.71 206.60,502.90 206.36,502.58 205.02,502.04ZM204.10,506.92 204.34,506.92 205.31,507.29 205.95,508.01 206.28,509.10 206.28,509.37 205.95,510.45 205.31,511.18 204.34,511.54 204.10,511.54 203.13,511.18 202.52,510.50 202.20,509.14 202.48,508.01 203.13,507.29ZM196.18,502.04 194.76,503.53 194.00,503.94 193.75,504.30 193.75,504.66 194.00,505.02 194.48,505.12 195.33,504.66 195.77,504.30 195.77,512.35 196.02,512.72 196.50,512.81 196.91,512.35 196.91,502.49 196.66,502.13Z" fill="#000" fill-rule="evenodd"/>
<path d="M217.99,583.63 217.26,584.36 217.18,584.90 217.83,585.72 218.31,585.81 219.04,585.08 219.12,584.54 218.47,583.73ZM229.54,575.13 229.30,575.49 229.30,585.35 229.38,585.53 229.70,585.81 230.03,585.81 230.43,585.35 230.47,577.89 235.00,585.49 235.36,585.81 235.84,585.72 236.09,585.35 236.09,575.49 236.00,575.31 235.68,575.04 235.36,575.04 234.95,575.49 234.91,582.96 230.39,575.36 230.03,575.04ZM227.20,575.04 221.22,575.04 220.82,575.49 220.90,576.03 221.22,576.31 226.11,576.35 222.47,584.86 222.43,585.35 222.84,585.81 223.16,585.81 223.56,585.40 227.56,575.99 227.60,575.49ZM211.89,575.04 210.56,575.58 209.51,577.30 209.10,579.52 209.10,582.23 209.59,584.18 210.56,585.26 211.89,585.81 212.70,585.81 214.03,585.26 215.00,584.18 215.49,582.68 215.49,581.78 215.00,580.29 213.87,579.11 212.70,578.66 211.89,578.66 210.72,579.11 210.32,579.38 210.60,577.75 211.33,576.62 212.17,576.31 212.82,576.31 213.67,576.62 214.03,577.39 214.35,577.66 214.84,577.57 215.08,577.21 215.04,576.71 214.68,575.90 214.44,575.58 213.10,575.04ZM212.17,579.92 212.42,579.92 213.39,580.29 214.03,581.01 214.35,582.10 214.35,582.37 214.03,583.45 213.39,584.18 212.42,584.54 212.17,584.54 211.20,584.18 210.60,583.50 210.28,582.14 210.56,581.01 211.20,580.29ZM204.26,575.04 202.84,576.53 202.08,576.94 201.83,577.30 201.83,577.66 202.08,578.02 202.56,578.12 203.41,577.66 203.85,577.30 203.85,585.35 204.10,585.72 204.58,585.81 204.98,585.35 204.98,575.49 204.74,575.13Z" fill="#000" fill-rule="evenodd"/>
<path d="M209.91,656.63 209.18,657.36 209.10,657.90 209.75,658.72 210.23,658.81 210.96,658.08 211.04,657.54 210.40,656.73ZM229.54,648.13 229.30,648.49 229.30,658.35 229.38,658.53 229.70,658.81 230.03,658.81 230.43,658.35 230.47,650.89 235.00,658.49 235.36,658.81 235.84,658.72 236.09,658.35 236.09,648.49 236.00,648.31 235.68,648.04 235.36,648.04 234.95,648.49 234.91,655.96 230.39,648.36 230.03,648.04ZM223.20,648.04 221.87,648.58 221.63,648.90 221.22,649.85 221.26,651.25 221.71,652.20 222.27,652.65 221.30,653.74 220.86,654.69 220.82,656.54 221.30,657.63 222.03,658.35 223.20,658.81 225.22,658.81 226.55,658.26 227.12,657.63 227.60,656.54 227.56,654.69 227.12,653.74 226.15,652.65 226.71,652.20 227.16,651.25 227.20,649.85 226.80,648.90 226.39,648.49 225.22,648.04ZM222.23,654.51 222.92,653.74 224.17,653.29 225.50,653.74 226.19,654.51 226.43,655.05 226.43,656.32 226.19,656.86 225.91,657.18 224.94,657.54 223.48,657.54 222.51,657.18 222.23,656.86 221.95,656.18 221.95,655.19ZM222.35,650.21 222.64,649.62 223.36,649.35 224.94,649.31 225.87,649.71 226.07,650.21 226.07,650.75 225.70,651.43 225.06,651.75 224.17,651.97 223.36,651.75 222.72,651.43 222.39,650.89ZM215.93,648.04 214.60,648.58 213.55,650.30 213.14,652.52 213.14,655.23 213.63,657.18 214.60,658.26 215.93,658.81 216.74,658.81 218.07,658.26 219.04,657.18 219.52,655.68 219.52,654.78 219.04,653.29 217.91,652.11 216.74,651.66 215.93,651.66 214.76,652.11 214.35,652.38 214.64,650.75 215.36,649.62 216.21,649.31 216.86,649.31 217.71,649.62 218.07,650.39 218.39,650.66 218.88,650.57 219.12,650.21 219.08,649.71 218.72,648.90 218.47,648.58 217.14,648.04ZM216.21,652.92 216.46,652.92 217.42,653.29 218.07,654.01 218.39,655.10 218.39,655.37 218.07,656.45 217.42,657.18 216.46,657.54 216.21,657.54 215.24,657.18 214.64,656.50 214.31,655.14 214.60,654.01 215.24,653.29ZM203.81,648.04 202.48,648.58 201.43,650.30 201.03,652.52 201.03,655.23 201.51,657.18 202.48,658.26 203.81,658.81 204.62,658.81 205.95,658.26 206.92,657.18 207.41,655.68 207.41,654.78 206.92,653.29 205.79,652.11 204.62,651.66 203.81,651.66 202.64,652.11 202.24,652.38 202.52,650.75 203.25,649.62 204.10,649.31 204.74,649.31 205.59,649.62 205.95,650.39 206.28,650.66 206.76,650.57 207.00,650.21 206.96,649.71 206.60,648.90 206.36,648.58 205.02,648.04ZM204.10,652.92 204.34,652.92 205.31,653.29 205.95,654.01 206.28,655.10 206.28,655.37 205.95,656.45 205.31,657.18 204.34,657.54 204.10,657.54 203.13,657.18 202.52,656.50 202.20,655.14 202.48,654.01 203.13,653.29ZM196.18,648.04 194.76,649.53 194.00,649.94 193.75,650.30 193.75,650.66 194.00,651.02 194.48,651.12 195.33,650.66 195.77,650.30 195.77,658.35 196.02,658.72 196.50,658.81 196.91,658.35 196.91,648.49 196.66,648.13Z" fill="#000" fill-rule="evenodd"/>
<path d="M209.91,729.63 209.18,730.36 209.10,730.90 209.75,731.72 210.23,731.81 210.96,731.08 211.04,730.54 210.40,729.73ZM229.54,721.13 229.30,721.49 229.30,731.35 229.38,731.53 229.70,731.81 230.03,731.81 230.43,731.35 230.47,723.89 235.00,731.49 235.36,731.81 235.84,731.72 236.09,731.35 236.09,721.49 236.00,721.31 235.68,721.04 235.36,721.04 234.95,721.49 234.91,728.96 230.39,721.36 230.03,721.04ZM224.01,721.04 222.68,721.58 221.63,723.30 221.22,725.52 221.22,728.23 221.71,730.18 222.68,731.26 224.01,731.81 224.82,731.81 226.15,731.26 227.12,730.18 227.60,728.68 227.60,727.78 227.12,726.29 225.99,725.11 224.82,724.66 224.01,724.66 222.84,725.11 222.43,725.38 222.72,723.75 223.44,722.62 224.29,722.31 224.94,722.31 225.79,722.62 226.15,723.39 226.47,723.66 226.96,723.57 227.20,723.21 227.16,722.71 226.80,721.90 226.55,721.58 225.22,721.04ZM224.29,725.92 224.53,725.92 225.50,726.29 226.15,727.01 226.47,728.10 226.47,728.37 226.15,729.45 225.50,730.18 224.53,730.54 224.29,730.54 223.32,730.18 222.72,729.50 222.39,728.14 222.68,727.01 223.32,726.29ZM215.93,721.04 214.60,721.58 213.55,723.30 213.14,725.52 213.14,728.23 213.63,730.18 214.60,731.26 215.93,731.81 216.74,731.81 218.07,731.26 219.04,730.18 219.52,728.68 219.52,727.78 219.04,726.29 217.91,725.11 216.74,724.66 215.93,724.66 214.76,725.11 214.35,725.38 214.64,723.75 215.36,722.62 216.21,722.31 216.86,722.31 217.71,722.62 218.07,723.39 218.39,723.66 218.88,723.57 219.12,723.21 219.08,722.71 218.72,721.90 218.47,721.58 217.14,721.04ZM216.21,725.92 216.46,725.92 217.42,726.29 218.07,727.01 218.39,728.10 218.39,728.37 218.07,729.45 217.42,730.18 216.46,730.54 216.21,730.54 215.24,730.18 214.64,729.50 214.31,728.14 214.60,727.01 215.24,726.29ZM203.81,721.04 202.48,721.58 201.43,723.30 201.03,725.52 201.03,728.23 201.51,730.18 202.48,731.26 203.81,731.81 204.62,731.81 205.95,731.26 206.92,730.18 207.41,728.68 207.41,727.78 206.92,726.29 205.79,725.11 204.62,724.66 203.81,724.66 202.64,725.11 202.24,725.38 202.52,723.75 203.25,722.62 204.10,722.31 204.74,722.31 205.59,722.62 205.95,723.39 206.28,723.66 206.76,723.57 207.00,723.21 206.96,722.71 206.60,721.90 206.36,721.58 205.02,721.04ZM204.10,725.92 204.34,725.92 205.31,726.29 205.95,727.01 206.28,728.10 206.28,728.37 205.95,729.45 205.31,730.18 204.34,730.54 204.10,730.54 203.13,730.18 202.52,729.50 202.20,728.14 202.48,727.01 203.13,726.29ZM196.18,721.04 194.76,722.53 194.00,722.94 193.75,723.30 193.75,723.66 194.00,724.02 194.48,724.12 195.33,723.66 195.77,723.30 195.77,731.35 196.02,731.72 196.50,731.81 196.91,731.35 196.91,721.49 196.66,721.13Z" fill="#000" fill-rule="evenodd"/>
<path d="M299.24,745.92 298.92,746.09 298.53,746.52 298.37,747.08 298.53,747.46 298.92,747.89 299.43,748.06 299.79,747.89 300.18,747.46 300.34,746.91 300.18,746.52 299.79,746.09 299.47,745.92ZM317.50,737.91 317.30,738.21 317.26,738.59 319.31,747.76 319.58,748.02 319.93,748.06 320.13,747.98 320.41,747.59 321.78,741.34 323.16,747.59 323.52,748.02 323.87,748.06 324.07,747.98 324.34,747.59 326.23,738.98 326.31,738.34 326.19,738.04 325.92,737.82 325.64,737.78 325.37,737.91 325.13,738.25 323.75,744.51 322.37,738.25 322.02,737.82 321.67,737.78 321.47,737.86 321.19,738.25 319.82,744.51 318.44,738.25 318.05,737.82 317.77,737.78ZM313.05,737.78 311.59,738.34 310.65,739.79 310.18,742.06 310.18,744.59 310.57,746.31 310.73,746.61 311.51,747.46 312.85,748.02 313.60,748.06 315.13,747.46 315.92,746.61 316.43,745.15 316.47,744.34 315.92,742.66 315.13,741.81 314.86,741.64 313.80,741.25 313.05,741.21 311.79,741.64 311.55,741.81 311.47,741.76 311.71,740.44 312.38,739.36 313.21,739.06 313.95,739.11 314.62,739.36 315.02,740.09 315.41,740.35 315.84,740.22 316.04,739.92 316.04,739.41 315.68,738.64 315.45,738.34 314.19,737.82ZM313.21,742.49 314.35,742.84 314.98,743.52 315.29,744.51 315.29,744.76 314.98,745.75 314.35,746.44 313.44,746.78 313.21,746.78 312.30,746.44 311.67,745.75 311.40,744.55 311.67,743.52 312.30,742.84ZM304.19,737.82 303.25,738.38 302.70,739.06 302.31,740.05 302.31,740.65 302.54,741.08 302.82,741.21 303.25,741.08 303.45,740.78 303.49,740.31 303.76,739.71 304.08,739.36 304.63,739.06 305.89,739.06 306.44,739.36 306.75,739.71 307.03,740.31 307.03,740.82 306.04,742.62 302.07,746.95 301.91,747.34 301.95,747.64 302.15,747.94 302.42,748.06 308.21,748.02 308.48,747.81 308.60,747.34 308.48,747.04 308.09,746.78 304.00,746.74 306.87,743.61 307.81,742.06 308.21,741.08 308.17,739.84 307.66,738.81 307.26,738.38 306.12,737.78ZM292.39,737.82 291.44,738.38 290.89,739.06 290.50,740.05 290.50,740.65 290.74,741.08 291.01,741.21 291.44,741.08 291.64,740.78 291.68,740.31 291.96,739.71 292.27,739.36 292.82,739.06 294.08,739.06 294.63,739.36 294.95,739.71 295.22,740.31 295.22,740.82 294.24,742.62 290.26,746.95 290.11,747.34 290.15,747.64 290.34,747.94 290.62,748.06 296.40,748.02 296.68,747.81 296.80,747.34 296.68,747.04 296.28,746.78 292.19,746.74 295.06,743.61 296.01,742.06 296.40,741.08 296.36,739.84 295.85,738.81 295.46,738.38 294.32,737.78ZM285.50,737.78 284.05,738.34 283.10,739.79 282.63,742.06 282.63,744.59 283.02,746.31 283.18,746.61 283.97,747.46 285.31,748.02 286.05,748.06 287.59,747.46 288.37,746.61 288.89,745.15 288.93,744.34 288.37,742.66 287.59,741.81 287.31,741.64 286.25,741.25 285.50,741.21 284.24,741.64 284.01,741.81 283.93,741.76 284.16,740.44 284.83,739.36 285.66,739.06 286.41,739.11 287.08,739.36 287.47,740.09 287.86,740.35 288.30,740.22 288.49,739.92 288.49,739.41 288.14,738.64 287.90,738.34 286.64,737.82ZM285.66,742.49 286.80,742.84 287.43,743.52 287.75,744.51 287.75,744.76 287.43,745.75 286.80,746.44 285.90,746.78 285.66,746.78 284.75,746.44 284.12,745.75 283.85,744.55 284.12,743.52 284.75,742.84Z" fill="#000" fill-rule="evenodd"/>
<path d="M358.08,745.92 357.76,746.09 357.37,746.52 357.21,747.08 357.37,747.46 357.76,747.89 358.27,748.06 358.63,747.89 359.02,747.46 359.18,746.91 359.02,746.52 358.63,746.09 358.31,745.92ZM376.34,737.91 376.14,738.21 376.10,738.59 378.15,747.76 378.42,748.02 378.77,748.06 378.97,747.98 379.25,747.59 380.62,741.34 382.00,747.59 382.36,748.02 382.71,748.06 382.91,747.98 383.18,747.59 385.07,738.98 385.15,738.34 385.03,738.04 384.76,737.82 384.48,737.78 384.21,737.91 383.97,738.25 382.59,744.51 381.21,738.25 380.86,737.82 380.51,737.78 380.31,737.86 380.03,738.25 378.66,744.51 377.28,738.25 376.89,737.82 376.61,737.78ZM373.03,737.78 372.60,738.12 368.74,743.99 368.62,744.51 368.74,744.81 369.13,745.06 372.52,745.06 372.56,747.51 372.79,747.94 373.23,748.06 373.50,747.94 373.74,747.51 373.74,745.11 375.31,745.02 375.59,744.81 375.71,744.34 375.59,744.04 375.19,743.78 373.74,743.74 373.74,738.29 373.46,737.86ZM372.52,740.52 372.56,743.74 370.43,743.78 370.55,743.48ZM363.03,737.82 362.09,738.38 361.54,739.06 361.15,740.05 361.15,740.65 361.38,741.08 361.66,741.21 362.09,741.08 362.29,740.78 362.33,740.31 362.60,739.71 362.92,739.36 363.47,739.06 364.73,739.06 365.28,739.36 365.59,739.71 365.87,740.31 365.87,740.82 364.88,742.62 360.91,746.95 360.75,747.34 360.79,747.64 360.99,747.94 361.26,748.06 367.05,748.02 367.32,747.81 367.44,747.34 367.32,747.04 366.93,746.78 362.84,746.74 365.71,743.61 366.65,742.06 367.05,741.08 367.01,739.84 366.50,738.81 366.10,738.38 364.96,737.78ZM351.23,737.82 350.28,738.38 349.73,739.06 349.34,740.05 349.34,740.65 349.58,741.08 349.85,741.21 350.28,741.08 350.48,740.78 350.52,740.31 350.80,739.71 351.11,739.36 351.66,739.06 352.92,739.06 353.47,739.36 353.79,739.71 354.06,740.31 354.06,740.82 353.08,742.62 349.10,746.95 348.95,747.34 348.99,747.64 349.18,747.94 349.46,748.06 355.24,748.02 355.52,747.81 355.64,747.34 355.52,747.04 355.12,746.78 351.03,746.74 353.90,743.61 354.85,742.06 355.24,741.08 355.20,739.84 354.69,738.81 354.30,738.38 353.16,737.78ZM344.34,737.78 342.89,738.34 341.94,739.79 341.47,742.06 341.47,744.59 341.86,746.31 342.02,746.61 342.81,747.46 344.15,748.02 344.89,748.06 346.43,747.46 347.21,746.61 347.73,745.15 347.77,744.34 347.21,742.66 346.43,741.81 346.15,741.64 345.09,741.25 344.34,741.21 343.08,741.64 342.85,741.81 342.77,741.76 343.00,740.44 343.67,739.36 344.50,739.06 345.25,739.11 345.92,739.36 346.31,740.09 346.70,740.35 347.14,740.22 347.33,739.92 347.33,739.41 346.98,738.64 346.74,738.34 345.48,737.82ZM344.50,742.49 345.64,742.84 346.27,743.52 346.59,744.51 346.59,744.76 346.27,745.75 345.64,746.44 344.74,746.78 344.50,746.78 343.59,746.44 342.96,745.75 342.69,744.55 342.96,743.52 343.59,742.84Z" fill="#000" fill-rule="evenodd"/>
<path d="M416.92,745.92 416.60,746.09 416.21,746.52 416.05,747.08 416.21,747.46 416.60,747.89 417.11,748.06 417.47,747.89 417.86,747.46 418.02,746.91 417.86,746.52 417.47,746.09 417.15,745.92ZM435.18,737.91 434.98,738.21 434.94,738.59 436.99,747.76 437.26,748.02 437.61,748.06 437.81,747.98 438.09,747.59 439.46,741.34 440.84,747.59 441.20,748.02 441.55,748.06 441.75,747.98 442.02,747.59 443.91,738.98 443.99,738.34 443.87,738.04 443.60,737.82 443.32,737.78 443.05,737.91 442.81,738.25 441.43,744.51 440.05,738.25 439.70,737.82 439.35,737.78 439.15,737.86 438.87,738.25 437.50,744.51 436.12,738.25 435.73,737.82 435.45,737.78ZM429.74,737.82 428.80,738.38 428.25,739.06 427.86,740.05 427.86,740.65 428.09,741.08 428.37,741.21 428.80,741.08 429.00,740.78 429.04,740.31 429.31,739.71 429.63,739.36 430.18,739.06 431.44,739.06 431.99,739.36 432.30,739.71 432.58,740.31 432.58,740.82 431.59,742.62 427.62,746.95 427.46,747.34 427.50,747.64 427.70,747.94 427.97,748.06 433.76,748.02 434.03,747.81 434.15,747.34 434.03,747.04 433.64,746.78 429.55,746.74 432.42,743.61 433.36,742.06 433.76,741.08 433.72,739.84 433.21,738.81 432.81,738.38 431.67,737.78ZM421.87,737.82 420.93,738.38 420.38,739.06 419.99,740.05 419.99,740.65 420.22,741.08 420.50,741.21 420.93,741.08 421.13,740.78 421.17,740.31 421.44,739.71 421.76,739.36 422.31,739.06 423.57,739.06 424.12,739.36 424.43,739.71 424.71,740.31 424.71,740.82 423.72,742.62 419.75,746.95 419.59,747.34 419.63,747.64 419.83,747.94 420.10,748.06 425.89,748.02 426.16,747.81 426.28,747.34 426.16,747.04 425.77,746.78 421.68,746.74 424.55,743.61 425.49,742.06 425.89,741.08 425.85,739.84 425.34,738.81 424.94,738.38 423.80,737.78ZM410.07,737.82 409.12,738.38 408.57,739.06 408.18,740.05 408.18,740.65 408.42,741.08 408.69,741.21 409.12,741.08 409.32,740.78 409.36,740.31 409.64,739.71 409.95,739.36 410.50,739.06 411.76,739.06 412.31,739.36 412.63,739.71 412.90,740.31 412.90,740.82 411.92,742.62 407.94,746.95 407.79,747.34 407.83,747.64 408.02,747.94 408.30,748.06 414.08,748.02 414.36,747.81 414.48,747.34 414.36,747.04 413.96,746.78 409.87,746.74 412.74,743.61 413.69,742.06 414.08,741.08 414.04,739.84 413.53,738.81 413.14,738.38 412.00,737.78ZM403.18,737.78 401.73,738.34 400.78,739.79 400.31,742.06 400.31,744.59 400.70,746.31 400.86,746.61 401.65,747.46 402.99,748.02 403.73,748.06 405.27,747.46 406.05,746.61 406.57,745.15 406.61,744.34 406.05,742.66 405.27,741.81 404.99,741.64 403.93,741.25 403.18,741.21 401.92,741.64 401.69,741.81 401.61,741.76 401.84,740.44 402.51,739.36 403.34,739.06 404.09,739.11 404.76,739.36 405.15,740.09 405.54,740.35 405.98,740.22 406.17,739.92 406.17,739.41 405.82,738.64 405.58,738.34 404.32,737.82ZM403.34,742.49 404.48,742.84 405.11,743.52 405.43,744.51 405.43,744.76 405.11,745.75 404.48,746.44 403.58,746.78 403.34,746.78 402.43,746.44 401.80,745.75 401.53,744.55 401.80,743.52 402.43,742.84Z" fill="#000" fill-rule="evenodd"/>
<path d="M479.69,745.92 479.38,746.09 478.98,746.52 478.83,747.08 478.98,747.46 479.38,747.89 479.89,748.06 480.24,747.89 480.64,747.46 480.79,746.91 480.64,746.52 480.24,746.09 479.93,745.92ZM490.08,737.91 489.88,738.21 489.84,738.59 491.89,747.76 492.17,748.02 492.52,748.06 492.72,747.98 492.99,747.59 494.37,741.34 495.75,747.59 496.10,748.02 496.45,748.06 496.65,747.98 496.93,747.59 498.82,738.98 498.89,738.34 498.78,738.04 498.50,737.82 498.23,737.78 497.95,737.91 497.71,738.25 496.34,744.51 494.96,738.25 494.61,737.82 494.25,737.78 494.05,737.86 493.78,738.25 492.40,744.51 491.02,738.25 490.63,737.82 490.36,737.78ZM484.65,737.82 483.70,738.38 483.15,739.06 482.76,740.05 482.76,740.65 483.00,741.08 483.27,741.21 483.70,741.08 483.90,740.78 483.94,740.31 484.22,739.71 484.53,739.36 485.08,739.06 486.34,739.06 486.89,739.36 487.21,739.71 487.48,740.31 487.48,740.82 486.50,742.62 482.52,746.95 482.37,747.34 482.41,747.64 482.60,747.94 482.88,748.06 488.66,748.02 488.94,747.81 489.06,747.34 488.94,747.04 488.55,746.78 484.45,746.74 487.33,743.61 488.27,742.06 488.66,741.08 488.62,739.84 488.11,738.81 487.72,738.38 486.58,737.78ZM472.84,737.82 471.90,738.38 471.35,739.06 470.95,740.05 470.95,740.65 471.19,741.08 471.47,741.21 471.90,741.08 472.10,740.78 472.14,740.31 472.41,739.71 472.73,739.36 473.28,739.06 474.54,739.06 475.09,739.36 475.40,739.71 475.68,740.31 475.68,740.82 474.69,742.62 470.72,746.95 470.56,747.34 470.60,747.64 470.80,747.94 471.07,748.06 476.86,748.02 477.13,747.81 477.25,747.34 477.13,747.04 476.74,746.78 472.65,746.74 475.52,743.61 476.46,742.06 476.86,741.08 476.82,739.84 476.31,738.81 475.91,738.38 474.77,737.78ZM465.96,737.78 464.50,738.34 463.56,739.79 463.08,742.06 463.08,744.59 463.48,746.31 463.64,746.61 464.42,747.46 465.76,748.02 466.51,748.06 468.04,747.46 468.83,746.61 469.34,745.15 469.38,744.34 468.83,742.66 468.04,741.81 467.77,741.64 466.70,741.25 465.96,741.21 464.70,741.64 464.46,741.81 464.38,741.76 464.62,740.44 465.29,739.36 466.11,739.06 466.86,739.11 467.53,739.36 467.92,740.09 468.32,740.35 468.75,740.22 468.95,739.92 468.95,739.41 468.59,738.64 468.36,738.34 467.10,737.82ZM466.11,742.49 467.26,742.84 467.89,743.52 468.20,744.51 468.20,744.76 467.89,745.75 467.26,746.44 466.35,746.78 466.11,746.78 465.21,746.44 464.58,745.75 464.30,744.55 464.58,743.52 465.21,742.84Z" fill="#000" fill-rule="evenodd"/>
<path d="M534.60,745.92 534.28,746.09 533.89,746.52 533.73,747.08 533.89,747.46 534.28,747.89 534.79,748.06 535.15,747.89 535.54,747.46 535.70,746.91 535.54,746.52 535.15,746.09 534.83,745.92ZM552.86,737.91 552.66,738.21 552.62,738.59 554.67,747.76 554.94,748.02 555.29,748.06 555.49,747.98 555.77,747.59 557.14,741.34 558.52,747.59 558.88,748.02 559.23,748.06 559.43,747.98 559.70,747.59 561.59,738.98 561.67,738.34 561.55,738.04 561.28,737.82 561.00,737.78 560.73,737.91 560.49,738.25 559.11,744.51 557.73,738.25 557.38,737.82 557.03,737.78 556.83,737.86 556.55,738.25 555.18,744.51 553.80,738.25 553.41,737.82 553.13,737.78ZM547.58,737.78 546.17,738.34 545.93,738.64 545.58,739.41 545.58,740.86 546.05,741.81 546.56,742.19 545.69,743.09 545.18,744.12 545.14,745.79 545.69,747.04 546.36,747.64 547.62,748.06 549.35,748.06 550.89,747.46 551.28,747.04 551.79,746.01 551.79,744.12 551.28,743.09 550.42,742.19 550.93,741.81 551.40,740.86 551.44,739.62 551.04,738.64 550.61,738.21 549.35,737.78ZM546.60,743.99 547.27,743.26 548.45,742.84 549.63,743.22 550.38,743.99 550.65,744.59 550.65,745.54 550.38,746.14 550.10,746.44 549.20,746.78 547.78,746.78 546.95,746.48 546.60,746.14 546.32,745.54 546.32,744.59ZM546.72,739.88 546.99,739.36 547.66,739.11 549.16,739.06 550.06,739.45 550.26,739.88 550.26,740.39 549.98,740.95 549.43,741.25 548.45,741.51 547.54,741.25 546.99,740.95 546.72,740.39ZM540.93,737.78 540.58,737.95 539.44,739.19 538.69,739.62 538.49,739.92 538.45,740.22 538.69,740.65 539.12,740.78 540.42,740.09 540.42,747.51 540.66,747.94 541.09,748.06 541.36,747.94 541.60,747.51 541.60,738.34 541.36,737.91ZM527.75,737.82 526.80,738.38 526.25,739.06 525.86,740.05 525.86,740.65 526.10,741.08 526.37,741.21 526.80,741.08 527.00,740.78 527.04,740.31 527.32,739.71 527.63,739.36 528.18,739.06 529.44,739.06 529.99,739.36 530.31,739.71 530.58,740.31 530.58,740.82 529.60,742.62 525.62,746.95 525.47,747.34 525.51,747.64 525.70,747.94 525.98,748.06 531.76,748.02 532.04,747.81 532.16,747.34 532.04,747.04 531.64,746.78 527.55,746.74 530.42,743.61 531.37,742.06 531.76,741.08 531.72,739.84 531.21,738.81 530.82,738.38 529.68,737.78ZM520.86,737.78 519.41,738.34 518.46,739.79 517.99,742.06 517.99,744.59 518.38,746.31 518.54,746.61 519.33,747.46 520.67,748.02 521.41,748.06 522.95,747.46 523.73,746.61 524.25,745.15 524.29,744.34 523.73,742.66 522.95,741.81 522.67,741.64 521.61,741.25 520.86,741.21 519.60,741.64 519.37,741.81 519.29,741.76 519.52,740.44 520.19,739.36 521.02,739.06 521.77,739.11 522.44,739.36 522.83,740.09 523.22,740.35 523.66,740.22 523.85,739.92 523.85,739.41 523.50,738.64 523.26,738.34 522.00,737.82ZM521.02,742.49 522.16,742.84 522.79,743.52 523.11,744.51 523.11,744.76 522.79,745.75 522.16,746.44 521.26,746.78 521.02,746.78 520.11,746.44 519.48,745.75 519.21,744.55 519.48,743.52 520.11,742.84Z" fill="#000" fill-rule="evenodd"/>
<path d="M593.44,745.92 593.12,746.09 592.73,746.52 592.57,747.08 592.73,747.46 593.12,747.89 593.63,748.06 593.99,747.89 594.38,747.46 594.54,746.91 594.38,746.52 593.99,746.09 593.67,745.92ZM611.70,737.91 611.50,738.21 611.46,738.59 613.51,747.76 613.78,748.02 614.13,748.06 614.33,747.98 614.61,747.59 615.98,741.34 617.36,747.59 617.72,748.02 618.07,748.06 618.27,747.98 618.54,747.59 620.43,738.98 620.51,738.34 620.39,738.04 620.12,737.82 619.84,737.78 619.57,737.91 619.33,738.25 617.95,744.51 616.57,738.25 616.22,737.82 615.87,737.78 615.67,737.86 615.39,738.25 614.02,744.51 612.64,738.25 612.25,737.82 611.97,737.78ZM607.25,737.78 605.79,738.34 604.85,739.79 604.38,742.06 604.38,744.59 604.77,746.31 604.93,746.61 605.71,747.46 607.05,748.02 607.80,748.06 609.33,747.46 610.12,746.61 610.63,745.15 610.67,744.34 610.12,742.66 609.33,741.81 609.06,741.64 608.00,741.25 607.25,741.21 605.99,741.64 605.75,741.81 605.67,741.76 605.91,740.44 606.58,739.36 607.41,739.06 608.15,739.11 608.82,739.36 609.22,740.09 609.61,740.35 610.04,740.22 610.24,739.92 610.24,739.41 609.88,738.64 609.65,738.34 608.39,737.82ZM607.41,742.49 608.55,742.84 609.18,743.52 609.49,744.51 609.49,744.76 609.18,745.75 608.55,746.44 607.64,746.78 607.41,746.78 606.50,746.44 605.87,745.75 605.60,744.55 605.87,743.52 606.50,742.84ZM599.77,737.78 599.42,737.95 598.28,739.19 597.53,739.62 597.33,739.92 597.29,740.22 597.53,740.65 597.96,740.78 599.26,740.09 599.26,747.51 599.50,747.94 599.93,748.06 600.20,747.94 600.44,747.51 600.44,738.34 600.20,737.91ZM586.59,737.82 585.64,738.38 585.09,739.06 584.70,740.05 584.70,740.65 584.94,741.08 585.21,741.21 585.64,741.08 585.84,740.78 585.88,740.31 586.16,739.71 586.47,739.36 587.02,739.06 588.28,739.06 588.83,739.36 589.15,739.71 589.42,740.31 589.42,740.82 588.44,742.62 584.46,746.95 584.31,747.34 584.35,747.64 584.54,747.94 584.82,748.06 590.60,748.02 590.88,747.81 591.00,747.34 590.88,747.04 590.48,746.78 586.39,746.74 589.26,743.61 590.21,742.06 590.60,741.08 590.56,739.84 590.05,738.81 589.66,738.38 588.52,737.78ZM579.70,737.78 578.25,738.34 577.30,739.79 576.83,742.06 576.83,744.59 577.22,746.31 577.38,746.61 578.17,747.46 579.51,748.02 580.25,748.06 581.79,747.46 582.57,746.61 583.09,745.15 583.13,744.34 582.57,742.66 581.79,741.81 581.51,741.64 580.45,741.25 579.70,741.21 578.44,741.64 578.21,741.81 578.13,741.76 578.36,740.44 579.03,739.36 579.86,739.06 580.61,739.11 581.28,739.36 581.67,740.09 582.06,740.35 582.50,740.22 582.69,739.92 582.69,739.41 582.34,738.64 582.10,738.34 580.84,737.82ZM579.86,742.49 581.00,742.84 581.63,743.52 581.95,744.51 581.95,744.76 581.63,745.75 581.00,746.44 580.10,746.78 579.86,746.78 578.95,746.44 578.32,745.75 578.05,744.55 578.32,743.52 578.95,742.84Z" fill="#000" fill-rule="evenodd"/>
<path d="M652.28,745.92 651.96,746.09 651.57,746.52 651.41,747.08 651.57,747.46 651.96,747.89 652.47,748.06 652.83,747.89 653.22,747.46 653.38,746.91 653.22,746.52 652.83,746.09 652.51,745.92ZM670.54,737.91 670.34,738.21 670.30,738.59 672.35,747.76 672.62,748.02 672.97,748.06 673.17,747.98 673.45,747.59 674.82,741.34 676.20,747.59 676.56,748.02 676.91,748.06 677.11,747.98 677.38,747.59 679.27,738.98 679.35,738.34 679.23,738.04 678.96,737.82 678.68,737.78 678.41,737.91 678.17,738.25 676.79,744.51 675.41,738.25 675.06,737.82 674.71,737.78 674.51,737.86 674.23,738.25 672.86,744.51 671.48,738.25 671.09,737.82 670.81,737.78ZM667.23,737.78 666.80,738.12 662.94,743.99 662.82,744.51 662.94,744.81 663.33,745.06 666.72,745.06 666.76,747.51 666.99,747.94 667.43,748.06 667.70,747.94 667.94,747.51 667.94,745.11 669.51,745.02 669.79,744.81 669.91,744.34 669.79,744.04 669.39,743.78 667.94,743.74 667.94,738.29 667.66,737.86ZM666.72,740.52 666.76,743.74 664.63,743.78 664.75,743.48ZM658.61,737.78 658.26,737.95 657.12,739.19 656.37,739.62 656.17,739.92 656.13,740.22 656.37,740.65 656.80,740.78 658.10,740.09 658.10,747.51 658.34,747.94 658.77,748.06 659.04,747.94 659.28,747.51 659.28,738.34 659.04,737.91ZM645.43,737.82 644.48,738.38 643.93,739.06 643.54,740.05 643.54,740.65 643.78,741.08 644.05,741.21 644.48,741.08 644.68,740.78 644.72,740.31 645.00,739.71 645.31,739.36 645.86,739.06 647.12,739.06 647.67,739.36 647.99,739.71 648.26,740.31 648.26,740.82 647.28,742.62 643.30,746.95 643.15,747.34 643.19,747.64 643.38,747.94 643.66,748.06 649.44,748.02 649.72,747.81 649.84,747.34 649.72,747.04 649.32,746.78 645.23,746.74 648.10,743.61 649.05,742.06 649.44,741.08 649.40,739.84 648.89,738.81 648.50,738.38 647.36,737.78ZM638.54,737.78 637.09,738.34 636.14,739.79 635.67,742.06 635.67,744.59 636.06,746.31 636.22,746.61 637.01,747.46 638.35,748.02 639.09,748.06 640.63,747.46 641.41,746.61 641.93,745.15 641.97,744.34 641.41,742.66 640.63,741.81 640.35,741.64 639.29,741.25 638.54,741.21 637.28,741.64 637.05,741.81 636.97,741.76 637.20,740.44 637.87,739.36 638.70,739.06 639.45,739.11 640.12,739.36 640.51,740.09 640.90,740.35 641.34,740.22 641.53,739.92 641.53,739.41 641.18,738.64 640.94,738.34 639.68,737.82ZM638.70,742.49 639.84,742.84 640.47,743.52 640.79,744.51 640.79,744.76 640.47,745.75 639.84,746.44 638.94,746.78 638.70,746.78 637.79,746.44 637.16,745.75 636.89,744.55 637.16,743.52 637.79,742.84Z" fill="#000" fill-rule="evenodd"/>
<path d="M711.12,745.92 710.80,746.09 710.41,746.52 710.25,747.08 710.41,747.46 710.80,747.89 711.31,748.06 711.67,747.89 712.06,747.46 712.22,746.91 712.06,746.52 711.67,746.09 711.35,745.92ZM729.38,737.91 729.18,738.21 729.14,738.59 731.19,747.76 731.46,748.02 731.81,748.06 732.01,747.98 732.29,747.59 733.66,741.34 735.04,747.59 735.40,748.02 735.75,748.06 735.95,747.98 736.22,747.59 738.11,738.98 738.19,738.34 738.07,738.04 737.80,737.82 737.52,737.78 737.25,737.91 737.01,738.25 735.63,744.51 734.25,738.25 733.90,737.82 733.55,737.78 733.35,737.86 733.07,738.25 731.70,744.51 730.32,738.25 729.93,737.82 729.65,737.78ZM723.94,737.82 723.00,738.38 722.45,739.06 722.06,740.05 722.06,740.65 722.29,741.08 722.57,741.21 723.00,741.08 723.20,740.78 723.24,740.31 723.51,739.71 723.83,739.36 724.38,739.06 725.64,739.06 726.19,739.36 726.50,739.71 726.78,740.31 726.78,740.82 725.79,742.62 721.82,746.95 721.66,747.34 721.70,747.64 721.90,747.94 722.17,748.06 727.96,748.02 728.23,747.81 728.35,747.34 728.23,747.04 727.84,746.78 723.75,746.74 726.62,743.61 727.56,742.06 727.96,741.08 727.92,739.84 727.41,738.81 727.01,738.38 725.87,737.78ZM717.45,737.78 717.10,737.95 715.96,739.19 715.21,739.62 715.01,739.92 714.97,740.22 715.21,740.65 715.64,740.78 716.94,740.09 716.94,747.51 717.18,747.94 717.61,748.06 717.88,747.94 718.12,747.51 718.12,738.34 717.88,737.91ZM704.27,737.82 703.32,738.38 702.77,739.06 702.38,740.05 702.38,740.65 702.62,741.08 702.89,741.21 703.32,741.08 703.52,740.78 703.56,740.31 703.84,739.71 704.15,739.36 704.70,739.06 705.96,739.06 706.51,739.36 706.83,739.71 707.10,740.31 707.10,740.82 706.12,742.62 702.14,746.95 701.99,747.34 702.03,747.64 702.22,747.94 702.50,748.06 708.28,748.02 708.56,747.81 708.68,747.34 708.56,747.04 708.16,746.78 704.07,746.74 706.94,743.61 707.89,742.06 708.28,741.08 708.24,739.84 707.73,738.81 707.34,738.38 706.20,737.78ZM697.38,737.78 695.93,738.34 694.98,739.79 694.51,742.06 694.51,744.59 694.90,746.31 695.06,746.61 695.85,747.46 697.19,748.02 697.93,748.06 699.47,747.46 700.25,746.61 700.77,745.15 700.81,744.34 700.25,742.66 699.47,741.81 699.19,741.64 698.13,741.25 697.38,741.21 696.12,741.64 695.89,741.81 695.81,741.76 696.04,740.44 696.71,739.36 697.54,739.06 698.29,739.11 698.96,739.36 699.35,740.09 699.74,740.35 700.18,740.22 700.37,739.92 700.37,739.41 700.02,738.64 699.78,738.34 698.52,737.82ZM697.54,742.49 698.68,742.84 699.31,743.52 699.63,744.51 699.63,744.76 699.31,745.75 698.68,746.44 697.78,746.78 697.54,746.78 696.63,746.44 696.00,745.75 695.73,744.55 696.00,743.52 696.63,742.84Z" fill="#000" fill-rule="evenodd"/>
<path d="M917.82,110.44 916.00,111.08 914.74,112.84 914.14,115.61 914.14,117.64 914.74,120.41 915.84,122.01 916.17,122.28 917.82,122.81 919.35,122.81 921.16,122.17 922.43,120.41 923.03,117.64 923.03,115.61 922.43,112.84 921.33,111.24 921.00,110.97 919.35,110.44ZM918.15,111.61 919.02,111.61 920.45,112.15 921.33,113.48 921.82,115.88 921.82,117.37 921.33,119.77 920.34,121.21 919.02,121.64 918.15,121.64 916.72,121.11 915.84,119.77 915.35,117.37 915.35,115.88 915.84,113.48 916.83,112.04ZM906.84,110.44 905.02,111.08 903.76,112.84 903.16,115.61 903.16,117.64 903.76,120.41 904.86,122.01 905.19,122.28 906.84,122.81 908.37,122.81 910.18,122.17 911.45,120.41 912.05,117.64 912.05,115.61 911.45,112.84 910.35,111.24 910.02,110.97 908.37,110.44ZM907.16,111.61 908.04,111.61 909.47,112.15 910.35,113.48 910.84,115.88 910.84,117.37 910.35,119.77 909.36,121.21 908.04,121.64 907.16,121.64 905.74,121.11 904.86,119.77 904.36,117.37 904.36,115.88 904.86,113.48 905.85,112.04ZM897.01,110.44 895.14,112.15 894.04,112.68 893.82,113.00 893.82,113.32 894.04,113.64 894.59,113.75 895.75,113.21 896.57,112.57 896.57,122.39 896.79,122.71 897.34,122.81 897.78,122.39 897.78,110.87 897.56,110.55Z" fill="#000" fill-rule="evenodd"/>
<path d="M906.84,146.00 905.02,146.64 903.76,148.40 903.16,151.17 903.16,153.20 903.76,155.97 904.86,157.57 905.19,157.84 906.84,158.37 908.37,158.37 910.18,157.73 911.45,155.97 912.05,153.20 912.05,151.17 911.45,148.40 910.35,146.80 910.02,146.53 908.37,146.00ZM907.16,147.17 908.04,147.17 909.47,147.71 910.35,149.04 910.84,151.44 910.84,152.93 910.35,155.33 909.36,156.77 908.04,157.20 907.16,157.20 905.74,156.67 904.86,155.33 904.36,152.93 904.36,151.44 904.86,149.04 905.85,147.60ZM895.85,146.00 894.21,146.53 892.84,147.81 892.18,149.57 892.18,150.53 892.73,152.13 894.21,153.57 895.85,154.11 896.84,154.11 898.49,153.57 899.26,152.99 898.82,155.33 897.94,156.67 897.72,156.83 896.51,157.20 895.64,157.20 894.43,156.83 893.88,155.87 893.49,155.60 892.95,155.71 892.73,156.03 892.78,156.51 893.33,157.57 893.66,157.84 895.31,158.37 896.84,158.37 898.65,157.73 899.92,155.97 900.52,153.20 900.52,150.11 899.86,147.81 898.65,146.64 896.84,146.00ZM896.18,147.17 896.73,147.23 897.94,147.65 898.82,148.51 899.26,150.16 898.82,151.60 897.89,152.51 896.51,152.93 895.96,152.88 894.76,152.45 893.82,151.55 893.38,150.21 893.44,149.68 893.88,148.51 894.81,147.60Z" fill="#000" fill-rule="evenodd"/>
<path d="M906.84,181.56 905.02,182.20 903.76,183.96 903.16,186.73 903.16,188.76 903.76,191.53 904.86,193.13 905.19,193.40 906.84,193.93 908.37,193.93 910.18,193.29 911.45,191.53 912.05,188.76 912.05,186.73 911.45,183.96 910.35,182.36 910.02,182.09 908.37,181.56ZM907.16,182.73 908.04,182.73 909.47,183.27 910.35,184.60 910.84,187.00 910.84,188.49 910.35,190.89 909.36,192.33 908.04,192.76 907.16,192.76 905.74,192.23 904.86,190.89 904.36,188.49 904.36,187.00 904.86,184.60 905.85,183.16ZM895.31,181.56 893.49,182.20 892.73,183.59 892.78,185.13 893.33,186.20 894.37,186.84 894.04,187.00 892.78,188.23 892.23,189.29 892.18,191.37 892.78,192.60 893.66,193.40 895.31,193.93 897.94,193.93 899.75,193.29 900.47,192.60 901.07,191.37 901.02,189.29 900.47,188.23 899.20,187.00 898.87,186.84 899.86,186.25 900.47,185.13 900.52,183.59 899.92,182.36 899.59,182.09 897.94,181.56ZM893.82,188.92 894.81,187.96 896.57,187.43 898.27,187.91 899.42,188.92 899.86,189.77 899.86,191.05 899.42,191.91 898.98,192.33 897.83,192.71 895.64,192.76 894.43,192.39 893.82,191.91 893.38,191.05 893.38,189.77ZM893.93,183.91 894.43,183.11 895.42,182.79 897.61,182.73 898.82,183.11 899.31,183.91 899.31,184.65 898.87,185.45 898.00,185.88 896.57,186.20 895.25,185.88 894.37,185.45 893.93,184.65Z" fill="#000" fill-rule="evenodd"/>
<path d="M906.84,217.12 905.02,217.76 903.76,219.52 903.16,222.29 903.16,224.32 903.76,227.09 904.86,228.69 905.19,228.96 906.84,229.49 908.37,229.49 910.18,228.85 911.45,227.09 912.05,224.32 912.05,222.29 911.45,219.52 910.35,217.92 910.02,217.65 908.37,217.12ZM907.16,218.29 908.04,218.29 909.47,218.83 910.35,220.16 910.84,222.56 910.84,224.05 910.35,226.45 909.36,227.89 908.04,228.32 907.16,228.32 905.74,227.79 904.86,226.45 904.36,224.05 904.36,222.56 904.86,220.16 905.85,218.72ZM900.69,217.12 892.62,217.12 892.18,217.55 892.29,218.08 892.62,218.29 899.48,218.35 894.43,228.59 894.37,229.07 894.81,229.49 895.14,229.49 895.58,229.12 901.07,217.92 901.07,217.49Z" fill="#000" fill-rule="evenodd"/>
<path d="M906.84,252.68 905.02,253.32 903.76,255.08 903.16,257.85 903.16,259.88 903.76,262.65 904.86,264.25 905.19,264.52 906.84,265.05 908.37,265.05 910.18,264.41 911.45,262.65 912.05,259.88 912.05,257.85 911.45,255.08 910.35,253.48 910.02,253.21 908.37,252.68ZM907.16,253.85 908.04,253.85 909.47,254.39 910.35,255.72 910.84,258.12 910.84,259.61 910.35,262.01 909.36,263.45 908.04,263.88 907.16,263.88 905.74,263.35 904.86,262.01 904.36,259.61 904.36,258.12 904.86,255.72 905.85,254.28ZM896.40,252.68 894.59,253.32 893.33,255.08 892.73,257.85 892.73,260.95 893.38,263.24 894.59,264.41 896.40,265.05 897.39,265.05 899.04,264.52 900.41,263.24 901.07,261.48 901.07,260.52 900.52,258.92 899.04,257.48 897.39,256.95 896.40,256.95 894.76,257.48 893.99,258.07 894.43,255.72 895.31,254.39 895.53,254.23 896.73,253.85 897.61,253.85 898.82,254.23 899.37,255.19 899.75,255.45 900.30,255.35 900.52,255.03 900.47,254.55 899.92,253.48 899.59,253.21 897.94,252.68ZM896.73,258.12 897.28,258.17 898.44,258.55 899.37,259.45 899.86,260.84 899.81,261.37 899.42,262.49 898.49,263.40 897.06,263.88 896.51,263.83 895.36,263.45 894.43,262.55 893.99,260.89 894.37,259.51 895.31,258.60Z" fill="#000" fill-rule="evenodd"/>
<path d="M906.84,288.24 905.02,288.88 903.76,290.64 903.16,293.41 903.16,295.44 903.76,298.21 904.86,299.81 905.19,300.08 906.84,300.61 908.37,300.61 910.18,299.97 911.45,298.21 912.05,295.44 912.05,293.41 911.45,290.64 910.35,289.04 910.02,288.77 908.37,288.24ZM907.16,289.41 908.04,289.41 909.47,289.95 910.35,291.28 910.84,293.68 910.84,295.17 910.35,297.57 909.36,299.01 908.04,299.44 907.16,299.44 905.74,298.91 904.86,297.57 904.36,295.17 904.36,293.68 904.86,291.28 905.85,289.84ZM893.71,288.24 893.38,288.45 893.22,288.93 892.73,293.31 892.84,294.00 893.16,294.21 893.49,294.21 894.26,293.57 895.64,293.15 897.06,293.15 898.27,293.52 899.42,294.53 899.86,295.87 899.86,296.72 899.37,298.11 898.44,299.01 897.06,299.44 895.64,299.44 894.21,298.96 893.82,298.59 893.33,297.57 892.95,297.31 892.62,297.31 892.29,297.52 892.18,297.73 892.23,298.21 892.78,299.28 893.49,299.97 895.31,300.61 897.39,300.61 899.04,300.08 900.52,298.64 901.07,297.04 901.07,295.55 900.52,293.95 899.04,292.51 897.39,291.97 895.31,291.97 894.32,292.35 894.10,292.29 894.48,289.41 899.53,289.41 899.86,289.20 899.97,288.67 899.53,288.24Z" fill="#000" fill-rule="evenodd"/>
<path d="M906.84,323.80 905.02,324.44 903.76,326.20 903.16,328.97 903.16,331.00 903.76,333.77 904.86,335.37 905.19,335.64 906.84,336.17 908.37,336.17 910.18,335.53 911.45,333.77 912.05,331.00 912.05,328.97 911.45,326.20 910.35,324.60 910.02,324.33 908.37,323.80ZM907.16,324.97 908.04,324.97 909.47,325.51 910.35,326.84 910.84,329.24 910.84,330.73 910.35,333.13 909.36,334.57 908.04,335.00 907.16,335.00 905.74,334.47 904.86,333.13 904.36,330.73 904.36,329.24 904.86,326.84 905.85,325.40ZM898.05,323.80 897.72,324.07 892.23,331.53 892.18,332.01 892.62,332.44 897.61,332.44 897.67,335.75 897.89,336.07 898.44,336.17 898.87,335.75 898.87,332.49 901.18,332.44 901.51,332.23 901.62,331.69 901.18,331.27 898.87,331.21 898.87,324.17 898.49,323.80ZM897.61,326.31 897.67,331.21 894.04,331.27Z" fill="#000" fill-rule="evenodd"/>
<path d="M904.69,359.36 904.36,359.57 904.20,360.05 903.71,364.43 903.82,365.12 904.15,365.33 904.47,365.33 905.24,364.69 906.62,364.27 908.04,364.27 909.25,364.64 910.40,365.65 910.84,366.99 910.84,367.84 910.35,369.23 909.42,370.13 908.04,370.56 906.62,370.56 905.19,370.08 904.80,369.71 904.31,368.69 903.93,368.43 903.60,368.43 903.27,368.64 903.16,368.85 903.21,369.33 903.76,370.40 904.47,371.09 906.29,371.73 908.37,371.73 910.02,371.20 911.50,369.76 912.05,368.16 912.05,366.67 911.50,365.07 910.02,363.63 908.37,363.09 906.29,363.09 905.30,363.47 905.08,363.41 905.46,360.53 910.51,360.53 910.84,360.32 910.95,359.79 910.51,359.36ZM893.71,359.36 893.27,359.79 893.38,360.32 893.71,360.53 898.65,360.59 896.07,363.89 896.02,364.37 896.46,364.80 898.11,364.80 898.98,365.23 899.42,365.65 899.81,366.77 899.86,367.84 899.37,369.23 898.44,370.13 897.06,370.56 895.64,370.56 894.21,370.08 893.82,369.71 893.33,368.69 892.95,368.43 892.62,368.43 892.29,368.64 892.18,368.85 892.23,369.33 892.78,370.40 893.49,371.09 895.31,371.73 897.39,371.73 899.04,371.20 900.52,369.76 901.07,368.16 901.07,366.67 900.41,364.91 899.59,364.16 898.60,363.68 897.89,363.57 900.47,360.27 900.52,359.79 900.08,359.36Z" fill="#000" fill-rule="evenodd"/>
<path d="M906.84,394.92 905.02,395.56 903.76,397.32 903.16,400.09 903.16,402.12 903.76,404.89 904.86,406.49 905.19,406.76 906.84,407.29 908.37,407.29 910.18,406.65 911.45,404.89 912.05,402.12 912.05,400.09 911.45,397.32 910.35,395.72 910.02,395.45 908.37,394.92ZM907.16,396.09 908.04,396.09 909.47,396.63 910.35,397.96 910.84,400.36 910.84,401.85 910.35,404.25 909.36,405.69 908.04,406.12 907.16,406.12 905.74,405.59 904.86,404.25 904.36,401.85 904.36,400.36 904.86,397.96 905.85,396.52ZM893.71,394.92 893.27,395.35 893.38,395.88 893.71,396.09 898.65,396.15 896.07,399.45 896.02,399.93 896.46,400.36 898.11,400.36 898.98,400.79 899.42,401.21 899.81,402.33 899.86,403.40 899.37,404.79 898.44,405.69 897.06,406.12 895.64,406.12 894.21,405.64 893.82,405.27 893.33,404.25 892.95,403.99 892.62,403.99 892.29,404.20 892.18,404.41 892.23,404.89 892.78,405.96 893.49,406.65 895.31,407.29 897.39,407.29 899.04,406.76 900.52,405.32 901.07,403.72 901.07,402.23 900.41,400.47 899.59,399.72 898.60,399.24 897.89,399.13 900.47,395.83 900.52,395.35 900.08,394.92Z" fill="#000" fill-rule="evenodd"/>
<path d="M904.69,430.48 904.36,430.69 904.20,431.17 903.71,435.55 903.82,436.24 904.15,436.45 904.47,436.45 905.24,435.81 906.62,435.39 908.04,435.39 909.25,435.76 910.40,436.77 910.84,438.11 910.84,438.96 910.35,440.35 909.42,441.25 908.04,441.68 906.62,441.68 905.19,441.20 904.80,440.83 904.31,439.81 903.93,439.55 903.60,439.55 903.27,439.76 903.16,439.97 903.21,440.45 903.76,441.52 904.47,442.21 906.29,442.85 908.37,442.85 910.02,442.32 911.50,440.88 912.05,439.28 912.05,437.79 911.50,436.19 910.02,434.75 908.37,434.21 906.29,434.21 905.30,434.59 905.08,434.53 905.46,431.65 910.51,431.65 910.84,431.44 910.95,430.91 910.51,430.48ZM895.20,430.53 894.04,431.12 893.33,431.81 892.73,433.04 892.73,433.89 892.95,434.21 893.16,434.32 893.71,434.21 893.93,433.89 893.93,433.36 894.37,432.51 894.81,432.08 895.69,431.65 897.56,431.65 898.44,432.08 898.87,432.51 899.31,433.36 899.31,434.11 898.82,435.07 897.83,436.51 892.29,441.89 892.18,442.43 892.62,442.85 900.63,442.85 901.07,442.43 900.96,441.89 900.63,441.68 894.32,441.63 898.82,437.25 899.92,435.65 900.52,434.43 900.47,432.88 899.92,431.81 899.20,431.12 897.89,430.48Z" fill="#000" fill-rule="evenodd"/>
<path d="M906.84,466.04 905.02,466.68 903.76,468.44 903.16,471.21 903.16,473.24 903.76,476.01 904.86,477.61 905.19,477.88 906.84,478.41 908.37,478.41 910.18,477.77 911.45,476.01 912.05,473.24 912.05,471.21 911.45,468.44 910.35,466.84 910.02,466.57 908.37,466.04ZM907.16,467.21 908.04,467.21 909.47,467.75 910.35,469.08 910.84,471.48 910.84,472.97 910.35,475.37 909.36,476.81 908.04,477.24 907.16,477.24 905.74,476.71 904.86,475.37 904.36,472.97 904.36,471.48 904.86,469.08 905.85,467.64ZM895.20,466.09 894.04,466.68 893.33,467.37 892.73,468.60 892.73,469.45 892.95,469.77 893.16,469.88 893.71,469.77 893.93,469.45 893.93,468.92 894.37,468.07 894.81,467.64 895.69,467.21 897.56,467.21 898.44,467.64 898.87,468.07 899.31,468.92 899.31,469.67 898.82,470.63 897.83,472.07 892.29,477.45 892.18,477.99 892.62,478.41 900.63,478.41 901.07,477.99 900.96,477.45 900.63,477.24 894.32,477.19 898.82,472.81 899.92,471.21 900.52,469.99 900.47,468.44 899.92,467.37 899.20,466.68 897.89,466.04Z" fill="#000" fill-rule="evenodd"/>
<path d="M904.69,501.60 904.36,501.81 904.20,502.29 903.71,506.67 903.82,507.36 904.15,507.57 904.47,507.57 905.24,506.93 906.62,506.51 908.04,506.51 909.25,506.88 910.40,507.89 910.84,509.23 910.84,510.08 910.35,511.47 909.42,512.37 908.04,512.80 906.62,512.80 905.19,512.32 904.80,511.95 904.31,510.93 903.93,510.67 903.60,510.67 903.27,510.88 903.16,511.09 903.21,511.57 903.76,512.64 904.47,513.33 906.29,513.97 908.37,513.97 910.02,513.44 911.50,512.00 912.05,510.40 912.05,508.91 911.50,507.31 910.02,505.87 908.37,505.33 906.29,505.33 905.30,505.71 905.08,505.65 905.46,502.77 910.51,502.77 910.84,502.56 910.95,502.03 910.51,501.60ZM897.01,501.60 895.14,503.31 894.04,503.84 893.82,504.16 893.82,504.48 894.04,504.80 894.59,504.91 895.75,504.37 896.57,503.73 896.57,513.55 896.79,513.87 897.34,513.97 897.78,513.55 897.78,502.03 897.56,501.71Z" fill="#000" fill-rule="evenodd"/>
<path d="M906.84,537.16 905.02,537.80 903.76,539.56 903.16,542.33 903.16,544.36 903.76,547.13 904.86,548.73 905.19,549.00 906.84,549.53 908.37,549.53 910.18,548.89 911.45,547.13 912.05,544.36 912.05,542.33 911.45,539.56 910.35,537.96 910.02,537.69 908.37,537.16ZM907.16,538.33 908.04,538.33 909.47,538.87 910.35,540.20 910.84,542.60 910.84,544.09 910.35,546.49 909.36,547.93 908.04,548.36 907.16,548.36 905.74,547.83 904.86,546.49 904.36,544.09 904.36,542.60 904.86,540.20 905.85,538.76ZM897.01,537.16 895.14,538.87 894.04,539.40 893.82,539.72 893.82,540.04 894.04,540.36 894.59,540.47 895.75,539.93 896.57,539.29 896.57,549.11 896.79,549.43 897.34,549.53 897.78,549.11 897.78,537.59 897.56,537.27Z" fill="#000" fill-rule="evenodd"/>
<path d="M893.71,572.72 893.38,572.93 893.22,573.41 892.73,577.79 892.84,578.48 893.16,578.69 893.49,578.69 894.26,578.05 895.64,577.63 897.06,577.63 898.27,578.00 899.42,579.01 899.86,580.35 899.86,581.20 899.37,582.59 898.44,583.49 897.06,583.92 895.64,583.92 894.21,583.44 893.82,583.07 893.33,582.05 892.95,581.79 892.62,581.79 892.29,582.00 892.18,582.21 892.23,582.69 892.78,583.76 893.49,584.45 895.31,585.09 897.39,585.09 899.04,584.56 900.52,583.12 901.07,581.52 901.07,580.03 900.52,578.43 899.04,576.99 897.39,576.45 895.31,576.45 894.32,576.83 894.10,576.77 894.48,573.89 899.53,573.89 899.86,573.68 899.97,573.15 899.53,572.72Z" fill="#000" fill-rule="evenodd"/>
<path d="M895.20,608.33 894.04,608.92 893.33,609.61 892.73,610.84 892.73,611.69 892.95,612.01 893.16,612.12 893.71,612.01 893.93,611.69 893.93,611.16 894.37,610.31 894.81,609.88 895.69,609.45 897.56,609.45 898.44,609.88 898.87,610.31 899.31,611.16 899.31,611.91 898.82,612.87 897.83,614.31 892.29,619.69 892.18,620.23 892.62,620.65 900.63,620.65 901.07,620.23 900.96,619.69 900.63,619.48 894.32,619.43 898.82,615.05 899.92,613.45 900.52,612.23 900.47,610.68 899.92,609.61 899.20,608.92 897.89,608.28Z" fill="#000" fill-rule="evenodd"/>
<path d="M897.01,643.84 895.14,645.55 894.04,646.08 893.82,646.40 893.82,646.72 894.04,647.04 894.59,647.15 895.75,646.61 896.57,645.97 896.57,655.79 896.79,656.11 897.34,656.21 897.78,655.79 897.78,644.27 897.56,643.95Z" fill="#000" fill-rule="evenodd"/>
<path d="M904.64,689.53 903.82,690.28 903.71,690.81 904.47,691.67 905.02,691.77 905.90,691.03 906.01,690.49 905.24,689.64ZM910.18,679.40 909.85,679.61 909.69,680.09 909.20,684.47 909.31,685.16 909.64,685.37 909.96,685.37 910.73,684.73 912.11,684.31 913.53,684.31 914.74,684.68 915.89,685.69 916.33,687.03 916.33,687.88 915.84,689.27 914.91,690.17 913.53,690.60 912.11,690.60 910.68,690.12 910.29,689.75 909.80,688.73 909.42,688.47 909.09,688.47 908.76,688.68 908.65,688.89 908.70,689.37 909.25,690.44 909.96,691.13 911.78,691.77 913.86,691.77 915.51,691.24 916.99,689.80 917.54,688.20 917.54,686.71 916.99,685.11 915.51,683.67 913.86,683.13 911.78,683.13 910.79,683.51 910.57,683.45 910.95,680.57 916.00,680.57 916.33,680.36 916.44,679.83 916.00,679.40ZM895.85,679.40 894.04,680.04 892.78,681.80 892.18,684.57 892.18,686.60 892.78,689.37 893.88,690.97 894.21,691.24 895.85,691.77 897.39,691.77 899.20,691.13 900.47,689.37 901.07,686.60 901.07,684.57 900.47,681.80 899.37,680.20 899.04,679.93 897.39,679.40ZM896.18,680.57 897.06,680.57 898.49,681.11 899.37,682.44 899.86,684.84 899.86,686.33 899.37,688.73 898.38,690.17 897.06,690.60 896.18,690.60 894.76,690.07 893.88,688.73 893.38,686.33 893.38,684.84 893.88,682.44 894.87,681.00Z" fill="#000" fill-rule="evenodd"/>
</svg></body></html>
